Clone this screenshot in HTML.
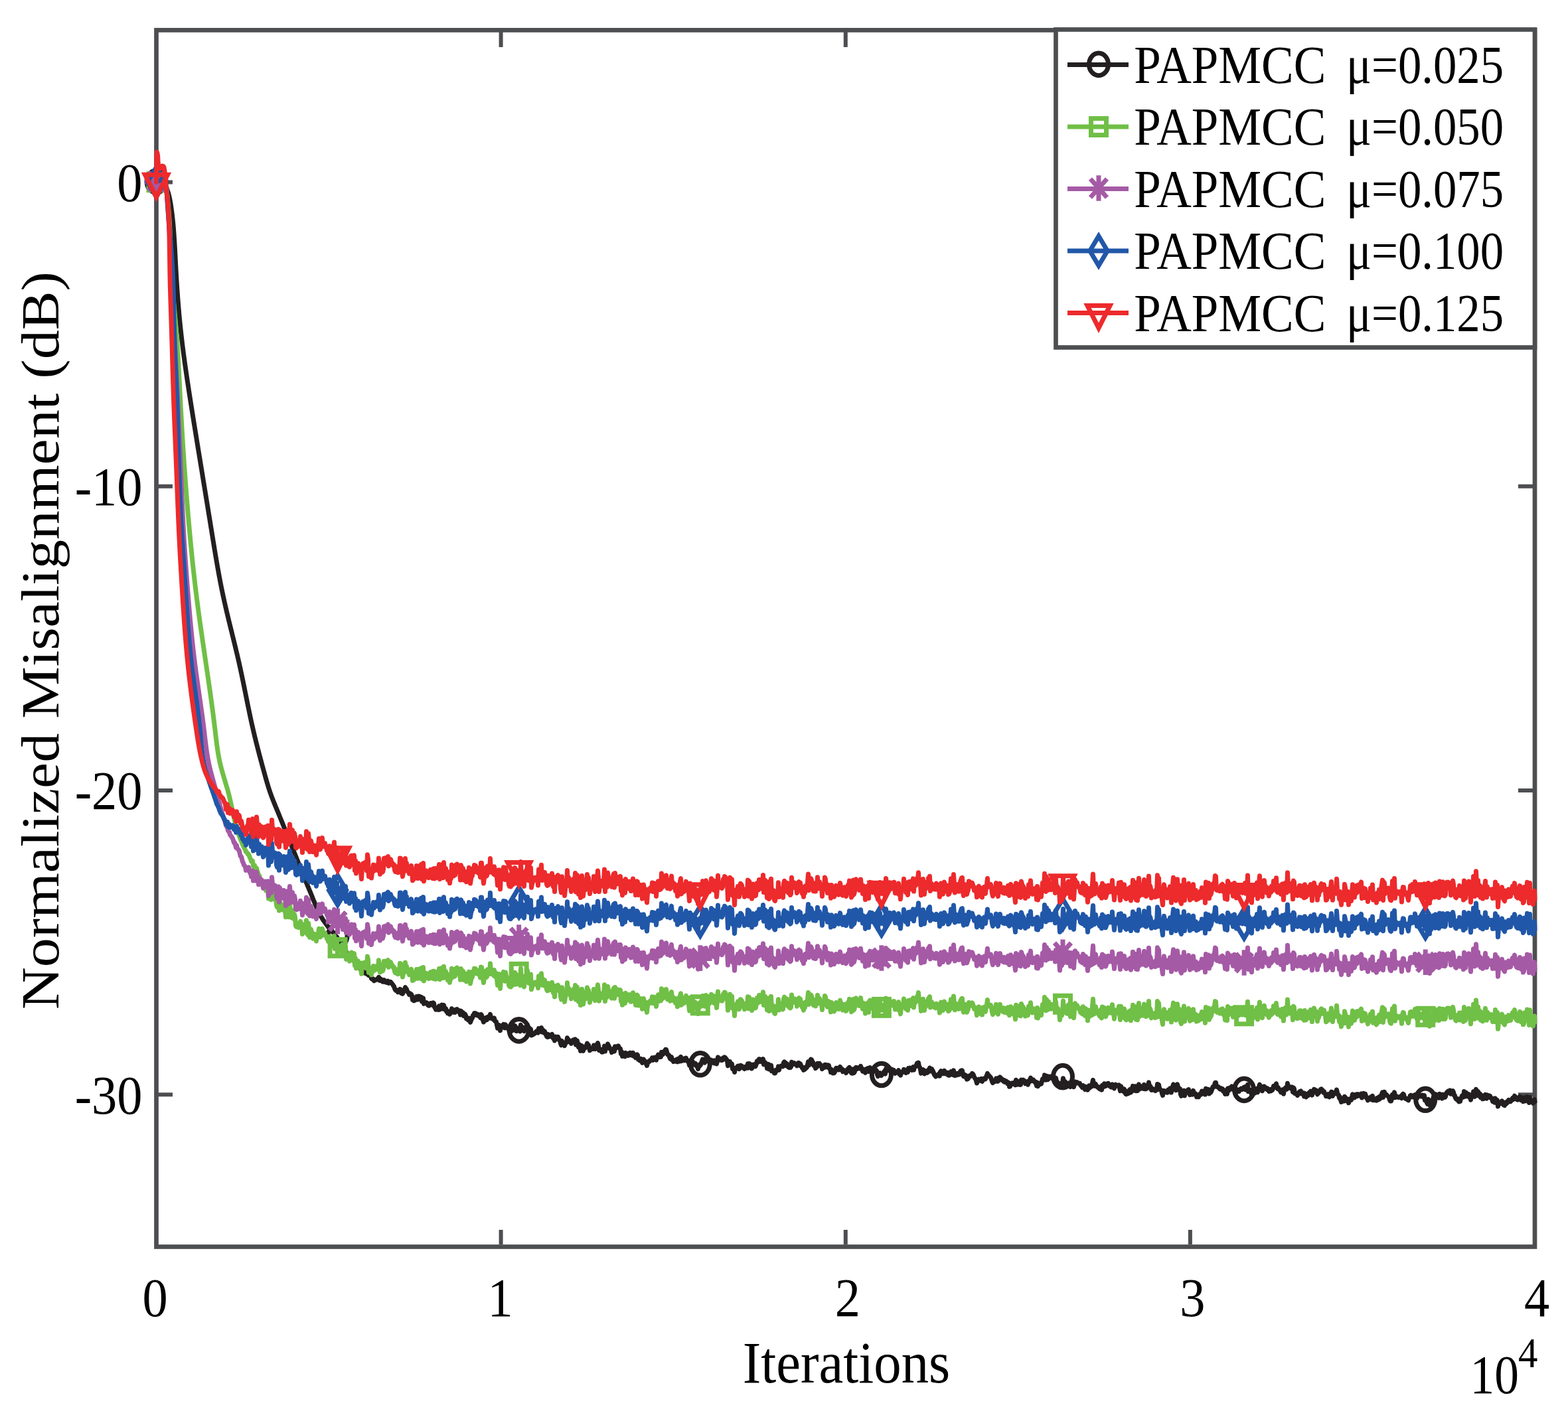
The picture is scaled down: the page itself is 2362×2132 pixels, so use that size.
<!DOCTYPE html><html><head><meta charset="utf-8"><style>html,body{margin:0;padding:0;background:#fff;}svg{display:block}text{font-family:"Liberation Serif","Times New Roman",serif;fill:#000}</style></head><body>
<svg xmlns="http://www.w3.org/2000/svg" width="2362" height="2132" viewBox="0 0 2362 2132">
<rect width="2362" height="2132" fill="#fff"/>
<rect x="235.5" y="45.4" width="2076.5" height="1833.1" fill="none" stroke="#4d4e50" stroke-width="6.7"/>
<path d="M754.6 48v23M754.6 1875v-22M1273.8 48v23M1273.8 1875v-22M1792.9 48v23M1792.9 1875v-22M238 274.4h22M2309 274.4h-22M238 732.8h22M2309 732.8h-22M238 1191.0h22M2309 1191.0h-22M238 1649.3h22M2309 1649.3h-22" stroke="#4d4e50" stroke-width="6" fill="none"/>
<defs><clipPath id="cp"><rect x="230" y="40" width="2090" height="1845"/></clipPath></defs>
<path clip-path="url(#cp)" d="M235.5 274.0l.5 -.4l.5 -.4l.5 -.3l.5 -.3l.5 -.2l.5 -.2l.5 -.1l.5 -.1h.5l.5 .1l.5 .1l.5 .2l.5 .3l.5 .3l.5 .3l.5 .4l.5 .3l.5 .3l.5 .3l.5 .3l.5 .3l.5 .4l.5 .4l.5 .5l.5 .5l.5 .7l.5 .8l.5 1l.5 1.1l.5 1.2l.5 1.2l.5 1.5l.5 1.5l.5 1.5l.5 1.6l.5 1.6l.5 1.8l.5 1.9l.5 2l.5 2.3l.5 2.4l.5 2.7l.5 2.9l.5 3.2l.5 3.4l.5 3.6l.5 3.8l.5 4.1l.5 4.5l.5 4.8l.5 5.3l.5 5.9l.5 6.6l.5 7.3l.5 8.2l.5 9.1l.5 9.8l.5 9.8l.5 9.5l.5 8.8l.5 8.3l.5 7.8l.5 7.3l.5 7l.5 6.7l.5 6.3l.5 6l.5 5.8l.5 5.6l.5 5.3l.5 5.1l.5 5l.5 4.8l.5 4.6l.5 4.5l.5 4.3l.5 4.3l.5 4.1l.5 4.1l.5 3.9l.5 3.9l.5 3.9l.5 3.7l.5 3.7l.5 3.7l.5 3.6l.5 3.6l.5 3.5l.5 3.5l.5 3.4l.5 3.4l.5 3.4l.5 3.4l.5 3.3l.5 3.3l.5 3.3l.5 3.3l.5 3.3l.5 3.2l.5 3.3l.5 3.2l.5 3.2l.5 3.2l.5 3.2l.5 3.1l.5 3.2l.5 3.2l.5 3.1l.5 3.2l.5 3.1l.5 3.2l.5 3.1l.5 3.1l.5 3.1l.5 3.1l.5 3.1l.5 3.1l.5 3.1l.5 3.1l.5 3.1l.5 3.1l.5 3.1l.5 3l.5 3.1l.5 3.1l.5 3l.5 3.1l.5 3.1l.5 3l.5 3.1l.5 3l.5 3.1l.5 3.1l.5 3l.5 3.1l.5 3l.5 3.1l.5 3l.5 3.1l.5 3.1l.5 3l.5 3.1l.5 3l.5 3.1l.5 3l.5 3.1l.5 3.1l.5 3l.5 3.1l.5 3.1l.5 3l.5 3.1l.5 3.1l.5 3l.5 3.1l.5 3.1l.5 3l.5 3.1l.5 3.1l.5 3.1l.5 3l.5 3.1l.5 3.1l.5 3.1l.5 3.1l.5 3.1l.5 3.1l.5 3.1l.5 3l.5 3.1l.5 3.1l.5 3.1l.5 3.1l.5 3l.5 3.1l.5 3l.5 3l.5 3l.5 3l.5 2.9l.5 2.9l.5 3l.5 2.8l.5 2.9l.5 2.8l.5 2.8l.5 2.8l.5 2.8l.5 2.7l.5 2.7l.5 2.6l.5 2.7l.5 2.6l.5 2.5l.5 2.6l.5 2.5l.5 2.5l.5 2.4l.5 2.4l.5 2.4l.5 2.4l.5 2.3l.5 2.3l.5 2.3l.5 2.3l.5 2.2l.5 2.2l.5 2.2l.5 2.2l.5 2.1l.5 2.2l.5 2.1l.5 2.1l.5 2.1l.5 2.1l.5 2.1l.5 2.1l.5 2l.5 2.1l.5 2l.5 2.1l.5 2l.5 2l.5 2.1l.5 2l.5 2l.5 2l.5 2.1l.5 2l.5 2l.5 2l.5 2.1l.5 2l.5 2l.5 2.1l.5 2l.5 2.1l.5 2l.5 2.1l.5 2.1l.5 2.1l.5 2.1l.5 2.1l.5 2.1l.5 2.1l.5 2.2l.5 2.1l.5 2.2l.5 2.2l.5 2.3l.5 2.2l.5 2.3l.5 2.3l.5 2.3l.5 2.3l.5 2.3l.5 2.4l.5 2.4l.5 2.4l.5 2.4l.5 2.4l.5 2.4l.5 2.5l.5 2.4l.5 2.5l.5 2.5l.5 2.4l.5 2.5l.5 2.5l.5 2.5l.5 2.4l.5 2.5l.5 2.5l.5 2.4l.5 2.5l.5 2.5l.5 2.4l.5 2.4l.5 2.4l.5 2.4l.5 2.4l.5 2.4l.5 2.3l.5 2.3l.5 2.4l.5 2.3l.5 2.2l.5 2.3l.5 2.2l.5 2.2l.5 2.2l.5 2.2l.5 2.1l.5 2.1l.5 2.1l.5 2.1l.5 2.1l.5 2l.5 2l.5 2.1l.5 2l.5 1.9l.5 2l.5 2l.5 1.9l.5 2l.5 1.9l.5 1.9l.5 2l.5 1.9l.5 1.9l.5 1.8l.5 1.9l.5 1.9l.5 1.9l.5 1.8l.5 1.9l.5 1.8l.5 1.9l.5 1.8l.5 1.8l.5 1.9l.5 1.8l.5 1.8l.5 1.8l.5 1.8l.5 1.9l.5 1.8l.5 1.7l.5 1.8l.5 1.8l.5 1.7l.5 1.7l.5 1.7l.5 1.7l.5 1.7l.5 1.6l.5 1.6l.5 1.6l.5 1.5l.5 1.5l.5 1.5l.5 1.5l.5 1.4l.5 1.4l.5 1.4l.5 1.4l.5 1.3l.5 1.3l.5 1.3l.5 1.3l.5 1.3l.5 1.2l.5 1.3l.5 1.2l.5 1.3l.5 1.2l.5 1.2l.5 1.2l.5 1.2l.5 1.2l.5 1.2l.5 1.2l.5 1.2l.5 1.2l.5 1.2l.5 1.2l.5 1.3l.5 1.2l.5 1.2l.5 1.2l.5 1.2l.5 1.3l.5 1.2l.5 1.2l.5 1.2l.5 1.3l.5 1.2l.5 1.2l.5 1.3l.5 1.2l.5 1.2l.5 1.3l.5 1.2l.5 1.3l.5 1.2l.5 1.2l.5 1.3l.5 1.2l.5 1.3l.5 1.2l.5 1.2l.5 1.3l.5 1.2l.5 1.3l.5 1.2l.5 1.2l.5 1.3l.5 1.2l.5 1.2l.5 1.3l.5 1.2l.5 1.3l.5 1.2l.5 1.2l.5 1.3l.5 1.2l.5 1.3l.5 1.2l.5 1.2l.5 1.3l.5 1.2l.5 1.3l.5 1.2l.5 1.3l.5 1.2l.5 1.3l.5 1.2l.5 1.2l.5 1.3l.5 1.2l.5 1.3l.5 1.3l.5 1.2l.5 1.3l.5 1.2l.5 1.3l.5 1.2l.5 1.3l.5 1.2l.5 1.3l.5 1.3l.5 1.2l.5 1.3l.5 1.2l.5 1.3l.5 1.2l.5 1.3l.5 1.3l.5 1.2l.5 1.3l.5 1.2l.5 1.2l.5 1.3l.5 1.2l.5 1.3l.5 1.2l.5 1.2l.5 1.3l.5 1.2l.5 1.2l.5 1.2l.5 1.3l.5 1.2l.5 1.2l.5 1.2l.5 1.2l.5 1.2l.5 1.2l.5 1.2l.5 1.2l.5 1.2l.5 1.2l.5 1.2l.5 1.2l.5 1.2l.5 1.2l.5 1.2l1 2.6l1 2.6l1 2.5l1 2.3l1 2.4l1 2.4l1 2.6l1 2l1 2.2l1 1.9l1 1.9l1 2.2l1 2.3l1 1.8l1 1.6l1 1.4l1 2l1 1.3l1 1.3l1 1.3l1 1.5l1 1.2l1 1.5l1 1.2l1 1.5l1 1l1 .7l1 1.3l1 1.4l1 .7l1 1.5l1 1.5l1 .3l1 .8l1 3l1 .7l1 1.8l1 .2l1 3.2l1 .6l1 .6l1 1l1 1.3l1 1l1 1.3l1 .9l1 3.5l1 1.1l1 2.2l1 2.2l1 .2l1 4.2l1 1.2l1 1.5l1 1.6h1l1 2.2l1 -.9l1 .2l1 .7l1 1.9l1 2l1 .5l1 1.1l1 4.7l1 -.2l1 3.8l1 -.1h1l1 .5l1 1.7l1 1.1l1 -.2l1 2.7l1 2.9l1 -1.1l1 .4l1 1.3l1 .4l1 1.5l1 .1l1 -.9l1 2.1l1 -4l1 1.1l1 4.8l1 -.6l1 .6l1 1.5l1 3.7l1 .1l1 1.1l1 -.6l1 2.5l1 -.8l1 -.3l1 -.8l1 .1l1 -1.2l1 1.3l1 -3.8l1 1.8l1 3.4l1 -2.6l1 2.5l1 .7l1 1.2h1l1 -2.7l1 2.7l1 .4l1 -1.6l1 2.2l1 -1.4l1 -.8l1 3.2l1 -.5l1 -1.1l1 -.2l1 1.4l1 1.2l1 1.1l1 2l1 .9l1 3.3l1 2l1 1.2l1 -.9l1 .7l1 2.4l1 -1l1 .6l1 -4l1 .5l1 5.4l1 -.3l1 1.3l1 -2.7l1 -2.3l1 -1.4l1 -3.4l1 5l1 -2.2l1 3.7l1 .8l1 1.5l1 2.3l1 -2l1 1.2l1 .1l1 2.5l1 6l1 -2.9l1 4.3l1 -.5l1 -.4l1 -.5l1 -4.8l1 2.3l1 2.1l1 -5l1 1.6l1 -.9l1 2.8l1 -2.3l1 6.8l1 -3.4l1 -1.6l1 8.4l1 -.9l1 -.3l1 .7l1 -1.3l1 .9l1 2.7l1 .9l1 .2l1 -1.8l1 -2h1l1 2.3l1 .5l1 -3.5l1 .9l1 5.8l1 1.2l1 2.3l1 -2.7l1 2.9l1 -.5l1 .7l1 -5.5l1 5.2l1 -3l1 -.3l1 -3.7l1 2.7l1 3.4l1 -5.8l1 4.9l1 2l1 -1.8l1 4.5l1 -1.4l1 4.2l1 -1.3l1 -.8l1 3.5l1 -3.2l1 .6l1 -5.8l1 1.2l1 3.6l1 .6l1 -1.8l1 2l1 -4.1l1 2.6l1 -3.2l1 3.3l1 -1.6l1 .1l1 2l1 4.5l1 -5.7l1 1.3l1 4l1 -3l1 5.1l1 -3l1 .4l1 1.8l1 4.8l1 -.4l1 1.7l1 1l1 -3l1 1.7l1 4.7l1 -2.7l1 -2.3l1 -1.5l1 -4.2l1 .6l1 -3.6l1 2.5l1 -2.5l1 1.3l1 1.7l1 -1.5l1 2.3l1 -.2l1 .2l1 3l1 -5l1 1l1 6l1 1.6l1 2.9l1 -2.6l1 .1l1 -3.9l1 3.4l1 -.6l1 -4.2l1 -.2l1 1.3l1 .7l1 -5.7l1 5.4l1 .7l1 -.5l1 1.4l1 1l1 -2.4l1 4.5l1 .4l1 .6l1 4.8l1 4.9l1 -5l1 .5l1 .3l1 7.9l1 -5.2l1 .1l1 -1.8l1 -.4l1 -2.2l1 5.1l1 .4l1 -4.9l1 2.1l1 .6l1 1.7l1 1l1 2.6l1 1.4h1l1 1l1 -5.7l1 .8l1 3.1l1 -2.5l1 -.6l1 -4l1 1.3l1 6.8l1 .1l1 -.8l1 -.2l1 -3.4l1 3.9l1 .8l1 -9.7l1 6.6l1 -.7l1 -2.2l1 4.9l1 .8l1 -5.5l1 1.7l1 -.7l1 -1.5l1 -3.5l1 4.9l1 3.3l1 -3.1l1 3l1 -1.5l1 9.3l1 -.6l1 -.3l1 -.6l1 -1.3l1 .2l1 -1.8l1 -1.3l1 -.7l1 -.4l1 2.9l1 -6.5l1 4l1 -1.7l1 -.9l1 -2.5l1 6.4l1 -3.3l1 .9l1 3.6l1 -2.2l1 3.8l1 1.1l1 2.8l1 .9l1 -4.1l1 3.8l1 -2.3l1 .4l1 -.7l1 2.4l1 -3.8l1 3.9l1 2.8l1 -2.5l1 5.6l1 -6l1 2l1 -1.5l1 -.1l1 -.2l1 2.6l1 2.7h1l1 5.1l1 2.2l1 -6.4l1 5.1l1 -1.7l1 -.3l1 4.1l1 -2.8l1 -2.4l1 -.9l1 -5.7l1 6.1l1 -3.5l1 2.1l1 -.2l1 1.8l1 2.2l1 -2.6l1 .5l1 -3.4l1 1.9l1 1.2l1 -4.1l1 8.3l1 -5.4l1 -.5l1 7.4l1 2.3l1 -4.6l1 2l1 8.1l1 -3.7l1 -4.1l1 2.8l1 5l1 -3.9l1 -.8l1 .3l1 -1.8l1 -2.4l1 -2.7l1 5l1 -2.5l1 3.3l1 4.9l1 -2.2l1 -.9l1 -.3l1 1.1l1 -.1l1 -5.4l1 2.8l1 2.8l1 -2.8l1 -3.8h1l1 -2.5l1 3.9l1 7l1 -1.6l1 .2l1 2.2l1 1.9l1 .2l1 -1.1l1 -2l1 -6.1l1 8l1 -6.3l1 -1.4l1 2.7l1 -6.1l1 2.3l1 1.6l1 3l1 1l1 .6l1 4.1l1 -2.7l1 -1.5l1 -1.7l1 4.4l1 -7.3l1 3l1 -1l1 -.5l1 -2.3l1 -.1l1 2.9l1 .6l1 .7l1 7.6l1 -3.1l1 7l1 -2.2l1 -1.8l1 2.2l1 2l1 -5.4l1 1.3l1 -.1l1 2.7l1 .1l1 -1.5l1 -2.5l1 -.2l1 3.7l1 .2l1 -1.4l1 -2.4l1 4.8l1 -.5l1 -.1l1 3.2l1 -1.7l1 -3.2l1 1l1 6.5l1 -1.2l1 2.8l1 -1.3l1 -1.2l1 3l1 3l1 -2.6l1 -2.8l1 2.4l1 .3l1 2.2l1 2.4l1 2.3l1 -4.1l1 -1.9l1 .4l1 -1l1 -1.8l1 .3l1 -.7l1 -3l1 3.5l1 -2.2l1 -1.6l1 2.8l1 -2.9l1 3.9l1 -3.9l1 -1.9l1 -2.4l1 .7l1 2.9l1 -3.2l1 2.9l1 -7.1l1 3.7l1 -.2l1 -2.7l1 -2l1 1.5l1 -4.3l1 .2l1 3.4l1 3.9l1 .2l1 .7l1 3.1l1 2.4l1 -1.8l1 -.7l1 4.5h1l1 2.3l1 -1.8l1 -.2l1 1.6l1 -1.8l1 -1l1 3.5l1 -4.6l1 .3l1 3.7l1 -5.4l1 -1.4l1 6.3l1 -2.2l1 .5l1 .1l1 .7l1 -2.9l1 1.1l1 -1.7l1 3.5l1 1.1l1 -.8l1 3.1l1 3.8l1 -7l1 4.6l1 .5l1 .4l1 -3.9l1 4.7l1 -.9l1 -1.3l1 .2l1 2.1l1 2.3l1 .6l1 3.3l1 -5.5l1 1.6l1 -3.4l1 1.2l1 -3l1 -2.9l1 -2.5l1 .7l1 2l1 2.4l1 -1.9l1 -4.7l1 1.3l1 1.2l1 .1l1 1.1l1 2.4l1 -.3l1 -1.2l1 -2.1l1 3.8l1 -2.8l1 3.1l1 .7l1 -4.1l1 2.1l1 -1.1l1 4.2l1 -4.1l1 -5.9l1 4.5l1 -.4l1 -1.4l1 -.4l1 2.2l1 .1l1 -.6l1 -3.2l1 1.7l1 -2.6l1 .6l1 2.7l1 -.2l1 2.5l1 7.4l1 -2.9l1 -1.8l1 -1.7l1 4l1 -.1l1 -.4l1 7.5l1 -1.7l1 2.4l1 4.3l1 -5.3l1 -1l1 -.1l1 -1.7l1 -1.3l1 1.4l1 3.1l1 -3l1 -2.3l1 .3l1 .5l1 2.2l1 .9l1 -.1l1 1.4l1 -3.1l1 2.2l1 -1.3l1 .6l1 -6l1 6.2l1 -6.6l1 .6l1 4.2l1 -2.4l1 5.1l1 -3.3l1 -2.7l1 2.1l1 -2.1l1 3l1 -1.3l1 -3.4l1 -3.8l1 .1l1 1.5l1 -4.4h1l1 3.7h1l1 -1.6l1 .6l1 -2.7l1 8.1l1 -1.5l1 -1.6l1 1.6l1 1.2l1 6.2l1 -2l1 -4.2l1 7.5l1 -.4l1 -4.1l1 -1.4l1 8.7l1 -2.1l1 1.9l1 -.4l1 3.9h1l1 -2.1l1 -2.9l1 .2l1 .1l1 -5.5l1 5.3l1 -4.4h1l1 -1.8l1 .2l1 -.9l1 1.6l1 -5.9l1 -1.1l1 2.7l1 -1.1l1 4.1l1 -2.9l1 2.9l1 2.3l1 .5l1 -2l1 2.2l1 -1.1l1 -7.3l1 4l1 -.7l1 -1l1 -.7l1 1.5l1 .7l1 -.4l1 2.2l1 -.9l1 -3.4l1 -.1l1 4l1 -2.7l1 2.7l1 1.7l1 2.3l1 -.1l1 3l1 -3.7l1 2.6l1 -3.2l1 1.2l1 -1.1l1 -3.7l1 -4.7l1 5.3l1 -3.4l1 -2.3l1 -3.2l1 .5l1 2.6l1 1l1 5.1l1 .3l1 -.1l1 4.1l1 -2.8l1 1l1 -5.6l1 2l1 1.2l1 -3l1 1.5l1 1.9l1 -.2l1 5l1 -3.4l1 1l1 .3l1 -4.3l1 .1l1 3.4l1 -3l1 3.2l1 -3.1l1 .8l1 4.4l1 .5l1 5l1 -4l1 4.5l1 .9l1 -.6l1 .4l1 -1.4l1 -3.4l1 -2.5l1 2.5l1 -2.6l1 1.8l1 .8l1 -2.4l1 -2.1l1 1.9l1 2.8l1 -1.5l1 4l1 -1.6l1 1l1 -1.1l1 1.3l1 2.4l1 -3.8l1 -.8l1 -1.7l1 3l1 -5.1l1 2.4l1 4.2l1 2l1 -2.8l1 3.1l1 -6.4l1 5.8l1 -1.7l1 -4.2l1 -2.3l1 1.6l1 .6l1 -.7l1 -1.2l1 1.3l1 .2l1 -3.8l1 3.2l1 .6l1 4.1l1 -3.1l1 3.3l1 -2.3l1 4.3l1 -5.5l1 -.4l1 -.7l1 .2l1 4.6l1 -5.8l1 -.3l1 2.2l1 2.6l1 -3l1 4.2h1l1 -2.1l1 -.3l1 -.9l1 1.9l1 .1l1 6l1 2.5l1 -2.9l1 1.5l1 -3.7l1 2.7l1 1.2l1 -1.3l1 -1.7l1 .4l1 -2.6l1 -1.5l1 4.3l1 -7.6l1 1.8l1 .9l1 -.4l1 -.9l1 .2l1 -2.1l1 .7l1 1.4l1 -.6l1 1.4l1 -.9l1 .6l1 2.3l1 2.4l1 -2l1 .9l1 -.5l1 .5l1 -3.5l1 5.2l1 -.6l1 2.9l1 -3.5l1 -1l1 -1.1l1 .6l1 -3.8l1 3.2l1 .3l1 1.6l1 -4.5l1 .7l1 2.7l1 -5.9l1 2.6l1 -3.1l1 1l1 1.4l1 1l1 -3.2l1 -1.6l1 4.5l1 -4.2l1 -.4l1 -1.3l1 -1.5l1 -2.6l1 .8l1 -1.7l1 5.9l1 1l1 3.2l1 5.8l1 -1.5l1 -1l1 -3l1 4.5l1 1.8l1 -4.6l1 3.4l1 -1.3l1 1.1l1 -.7l1 -3.6l1 .9l1 -4.1l1 5l1 -1.5l1 -1.9l1 1.8l1 1.6l1 2.9l1 2.5l1 1.1l1 1.5l1 -2.1l1 .5h1l1 .4l1 -2.9l1 3.3l1 -6l1 -1.6l1 .9l1 1l1 2l1 -1.4l1 -2.7l1 1.5l1 3.1l1 -1.6l1 1.3l1 -1.6l1 4l1 .2l1 -.2l1 -1.7l1 -3.7l1 .6l1 3.5l1 .6l1 -6.5l1 4.1l1 3.6l1 -.2l1 -3.1l1 2.4l1 -1.6l1 -1l1 2.1l1 -.7l1 -4.1l1 -1.1l1 -.6l1 .3l1 6.6l1 2l1 -2.5l1 3.2l1 -2.3l1 2.8l1 3.4l1 -.4l1 -.6l1 -3.9l1 -.6l1 .8l1 -1.9l1 -.3l1 -2l1 .9l1 1.7l1 3l1 1.5l1 1.2l1 2.6l1 3.8l1 -2.2l1 -2.3l1 -1.3l1 1.4l1 -.4l1 1.1l1 -3l1 4.2l1 -3.3l1 .2l1 -1.5l1 1.2l1 -.3l1 -3.6l1 -2l1 -2.9l1 3.5l1 -.6l1 1.4l1 .7l1 1.3l1 2.7l1 3.3l1 1.9l1 -1.8l1 .5l1 -1.6l1 -.4l1 -3.3l1 4.2l1 -1.3l1 1.3l1 -5l1 1.3l1 -2.5l1 2.6l1 -.4l1 2.4l1 -.9l1 2.5l1 -1.6l1 2.8l1 -1.6l1 .1l1 2l1 1.9l1 -2l1 1.5l1 5l1 -.1l1 -4.6l1 -.4l1 .4l1 .7l1 -1.6l1 .7l1 -.1l1 2.6l1 -7.5l1 3.8l1 3.1l1 -4.5l1 -.1l1 3.3l1 1.6l1 -.2l1 -7.2l1 .3l1 1.4l1 -1.6l1 1.4l1 -.1l1 4.2l1 -2.8l1 1.6l1 .5l1 2.2l1 -5.5l1 2l1 -3.9l1 -2.7l1 4.6l1 -1.9l1 1.9l1 -1.8l1 1.8l1 .2l1 2.4l1 -.9l1 5.5l1 -5l1 5.8l1 -4.2l1 1.8l1 -2.2l1 -.2l1 1.2l1 -4l1 -3.5l1 1.5h1l1 -7.2l1 6.9l1 .3l1 -6l1 3.6l1 2l1 -4.7l1 .9l1 -.7l1 1.3l1 .9l1 -2.4l1 .6l1 2.4l1 -.1l1 -.6l1 4.3l1 -4.5l1 5.1l1 .6l1 1.3l1 2.6h1l1 4.6l1 -4.4l1 -1.7l1 1.6l1 -2.3l1 -6.8l1 4.4l1 2.1l1 -1.5l1 3.7h1l1 3.1l1 -3.8l1 -.7l1 2.6l1 1.1l1 1.8l1 -3.9l1 -1.3l1 3.4l1 -1.9l1 3.9l1 -4l1 -3.8l1 2.5l1 -.4l1 -1.2l1 1.1l1 -.1l1 .8l1 -.3l1 2.7l1 1.1l1 .9l1 1.7l1 -3.2l1 1.5l1 2.2l1 2.4l1 -4.3l1 1.3l1 .5l1 3.1l1 -4.3l1 -2l1 3.3l1 -2.3l1 -1.8l1 2.1l1 -5.3l1 -4.6l1 6.4l1 2.5l1 -3.4l1 .8l1 2.9l1 .9l1 1l1 -.6l1 2.1l1 1l1 -.6l1 -2.6l1 4.5l1 -6.9l1 1.5l1 .8l1 -4.8l1 3l1 .7l1 -1l1 -2.3l1 1.7l1 -2.6l1 3l1 1.2l1 .4l1 1.1l1 -.3l1 -3.8l1 4.6l1 -1.2l1 2.7l1 -3.9l1 -1.9l1 1.7h1l1 -.3l1 .4l1 -1.1l1 4.6l1 4.2l1 -7.1l1 2.5l1 4.4l1 -.4l1 1.6l1 -3.8l1 3.9l1 3.3l1 .6l1 -.6l1 -2.9l1 2.5l1 -4.7l1 -.4l1 -1.4l1 4.9l1 -4.7l1 .4l1 -5.4l1 6.8l1 -1.7l1 -4.8h1l1 7l1 -6l1 5.8l1 -5.3l1 -4.3l1 7.3l1 -1.6l1 .2l1 -2.9l1 .6l1 2.7l1 -3.6l1 -2.2l1 6.4l1 -3.6l1 3.5l1 -4.7l1 -.7h1l1 -4.4l1 8.2l1 -3l1 1.9l1 4.5l1 -2.4l1 2l1 -1l1 1.1l1 -.8l1 2.1l1 -3.1l1 1l1 -7.9l1 8.2l1 -7.6l1 5.5l1 1.3l1 1.3l1 .7l1 4.5l1 3.1l1 -4.9l1 -2.2l1 1.8h1l1 .5l1 -1l1 1.4l1 -4.1l1 .4h1l1 -2.4l1 .8l1 5.2l1 -6.1l1 -2.7l1 -3.3l1 6.7l1 -3.3l1 -.9l1 6.3l1 -2.1l1 -6.8l1 3.5l1 4.1l1 1.3l1 -2.2l1 8.6l1 2.2l1 -5l1 -.5l1 1.1l1 -3.8l1 7.8l1 -3.3l1 -3l1 .1l1 1l1 -3.8l1 -.4l1 4.4l1 3.7l1 -2l1 .1l1 -2l1 3.4l1 -5.7l1 4l1 -.4l1 1.9l1 -.7l1 4.6l1 -1.2l1 -.9l1 2.1l1 -2l1 -2.1l1 -1.4l1 1.7l1 -4.9l1 .8l1 -.7l1 1l1 -1.2l1 5l1 -8.7l1 5.1l1 -1.3l1 2.9l1 -5.6l1 6.6l1 -5.8l1 4l1 -1.5l1 -2.5l1 -3.4l1 -1.7l1 .6l1 -2.9l1 -3.5l1 -.1l1 5.8l1 .5l1 .1h1l1 1.9l1 1.3l1 .5l1 -1.5l1 .9l1 -.2l1 3.6l1 -1.8l1 2.5l1 3.6l1 -3.5l1 2.7l1 .7l1 -8.3l1 -.2l1 3.1l1 -3.7l1 1.7l1 -.5l1 -3.5l1 2.6l1 2.1l1 -1.3l1 -3.2l1 2.7l1 .3l1 5.8l1 -3l1 -.6l1 1.6l1 .5l1 -2.9h1l1 -1.2l1 1l1 .2l1 -1.6l1 -1.5l1 2l1 -2.8l1 4.3l1 -1.7l1 -.3l1 -5.6l1 10.3l1 -1.4l1 .4l1 -1.4l1 2.5l1 4.8l1 -5.4l1 3.9h1l1 -1.1h1l1 -3.7l1 2.5l1 -5.5l1 5.5l1 -3.6l1 -4.7l1 -3.3l1 4.8l1 1.2l1 -2.7l1 6.4l1 -2.8l1 -1.6l1 -2.4l1 2.4l1 -.6l1 1.8l1 1l1 -1.7l1 1.6l1 2.9l1 -1.2l1 -1.4l1 2.1l1 -2.7l1 1.5l1 -2.1l1 -4.2l1 2.2l1 -2.4l1 .9l1 -4.4l1 6.3l1 1.4l1 -1.7l1 2l1 1.7l1 .8l1 2.6l1 -3l1 -.8l1 2l1 4.3l1 -5.8l1 -2.4l1 -1.2l1 1.1l1 1.1l1 -8.8l1 5.4l1 -.1l1 .6l1 -.4l1 2.3l1 -.2l1 -2l1 7.5l1 -6.5l1 1.7l1 6.8l1 -.4l1 .2l1 1.8l1 1.4l1 -2.6l1 -1l1 -1.8l1 -.5l1 -.5l1 4l1 -1.5l1 1.5l1 -1.1l1 5l1 -4.6l1 5.1l1 .5l1 -3.2l1 -1.6l1 2.7l1 -3.6l1 -1.2l1 1.1l1 -2.9l1 1.7l1 4.3l1 -6l1 2.2l1 -5.1l1 1.9l1 -.9l1 .5l1 2.5l1 3.6l1 -4.8l1 2.8l1 -2.7l1 .1l1 -3.1l1 -.4l1 2h1l1 3.1l1 -1.2l1 2.9l1 .6l1 3.6h1l1 -1.9l1 -1.3l1 3.4l1 .9l1 -2.4l1 -2.2l1 -3.2l1 2.8l1 3.4l1 -5.2l1 1l1 -.2l1 .2l1 .7l1 -5.8l1 4.8l1 2.3l1 .6l1 4.7l1 -1.6l1 4.5l1 3.2l1 -3.6l1 1l1 -.8l1 2.1l1 -6.9l1 1.2l1 2.5l1 2.8l1 -.1l1 -2.6l1 5.7l1 -3.5l1 -2.3l1 1.3l1 .2l1 -4.4l1 -4.2l1 1.7l1 1.3l1 1.9l1 -4.3l1 2.7l1 -3.4l1 2.8l1 -2.9l1 2.3l1 -1.9l1 1.5l1 -1.4l1 -1.3l1 6.1l1 -1.3l1 -2.7l1 -2.6l1 4l1 -3.2l1 3l1 3.2l1 -.5l1 4l1 -2.8l1 .2l1 .6l1 -3l1 -.1l1 4l1 -5.5l1 6.3l1 -1.9l1 1.8l1 -1.2l1 -.6l1 2.5l1 -4h1l1 2.7l1 -4.3l1 3.3l1 -1.8l1 -3.4l1 -2.5l1 -2.4l1 7.8l1 -8.2l1 -.2l1 4.2l1 -.5l1 .4l1 1.4l1 .8l1 .7l1 1.8l1 3.7l1 1.3h1l1 -3.5l1 -6.1l1 4.8l1 -2.7l1 -5.6l1 7.9l1 -2.2h1l1 1.2l1 .3l1 .5l1 -.3l1 -.7l1 .4l1 -1.5l1 3.1l1 -5.1l1 -1.3l1 .8l1 3.8l1 1.2l1 1.6l1 -.1l1 .1l1 1.6l1 .7l1 -3.1l1 -1.6l1 -2.7l1 -.3l1 2.6l1 -.5l1 .5l1 -2l1 2.4l1 -3.7l1 1.8l1 .9l1 2.8l1 -3.3l1 -1.7l1 1.7l1 -1.6l1 1.7l1 -1.5h1l1 -.3l1 2.8l1 -1.8l1 -.3l1 7l1 -1.3l1 2.7l1 2.6l1 1.7l1 -7.2l1 3.5l1 5.1l1 -6.6l1 4.3l1 -2.7l1 -2.5l1 .1l1 -5.2l1 3l1 .2l1 -6.8l1 .8l1 3.7l1 -1.9l1 -1.2l1 4.4l1 -6.1l1 3.8l1 1.3l1 -.7l1 2.3l1 -5.9l1 3.1l1 -2.5l1 3.7l1 -1.1l1 -4.7l1 -1.7l1 1.2l1 -3l1 -.4l1 1.5l1 -2.2l1 5.2l1 -3.4l1 -.6l1 -.6l1 2.2l1 4.7l1 .1l1 3.7l1 1.7l1 .5l1 -.9l1 2.8l1 1.4l1 -3.8l1 3.5l1 -4.9l1 -.3l1 -3.5l1 .2l1 2.1l1 -8.5l1 2.4l1 5l1 -5.7l1 2.6l1 1.4l1 1.9l1 -3.5l1 4.6l1 .6l1 3.3l1 -5.9l1 -1.7l1 1.1l1 -5.9l1 5.3l1 2.2l1 -4l1 -7.1l1 5.7l1 .6l1 -3l1 6.6l1 -3.8l1 .9l1 5.5l1 -2.8l1 -.3l1 5.2l1 -2.7l1 2.2l1 -3.1l1 -2.8l1 3.8l1 1.9l1 -5.2l1 1.1l1 .4l1 -.6l1 .5l1 3.1l1 .4l1 -.1l1 4.8l1 .5l1 -.3l1 1.4l1 -6.2l1 6.4l1 .2l1 -3.8l1 9.4l1 -3.7l1 -2l1 -.1l1 1.2l1 -.5l1 -3.1l1 3.2l1 2.4l1 .7l1 .5l1 -4.6l1 .3l1 1.3l1 -3.2l1 .9l1 -3.1l1 2.6l1 -1.3l1 1l1 -1.3l1 -2.2l1 -1.6l1 2l1 -2.4l1 -2.9l1 1.5l1 2.6l1 1l1 -.9l1 1.7l1 -3.6l1 .5l1 -1.8l1 .3l1 5.2l1 -2.5l1 .7l1 3.8l1 -.3l1 -5.8l1 4.5l1 -3.5l1 4.1l1 -6.1l1 2.2l1 .1l1 6.6l1 -8.2l1 6.5h1l1 -2l1 1.5l1 3l1 -4.3l1 -1.4l.5 3.3" stroke="#231f20" fill="none" stroke-width="7.0" stroke-linejoin="round" stroke-linecap="round"/>
<ellipse cx="235.5" cy="273.6" rx="14.5" ry="16.8" fill="none" stroke="#231f20" stroke-width="7.0"/>
<ellipse cx="508.6" cy="1410.1" rx="14.5" ry="16.8" fill="none" stroke="#231f20" stroke-width="7.0"/>
<ellipse cx="781.7" cy="1552.4" rx="14.5" ry="16.8" fill="none" stroke="#231f20" stroke-width="7.0"/>
<ellipse cx="1054.8" cy="1603.3" rx="14.5" ry="16.8" fill="none" stroke="#231f20" stroke-width="7.0"/>
<ellipse cx="1327.9" cy="1619.0" rx="14.5" ry="16.8" fill="none" stroke="#231f20" stroke-width="7.0"/>
<ellipse cx="1601.0" cy="1622.1" rx="14.5" ry="16.8" fill="none" stroke="#231f20" stroke-width="7.0"/>
<ellipse cx="1874.1" cy="1641.9" rx="14.5" ry="16.8" fill="none" stroke="#231f20" stroke-width="7.0"/>
<ellipse cx="2147.2" cy="1656.8" rx="14.5" ry="16.8" fill="none" stroke="#231f20" stroke-width="7.0"/>
<path clip-path="url(#cp)" d="M235.5 274.0h.5h.5h.5h.5h.5h.5h.5h.5h.5h.5h.5h.5h.5h.5h.5h.5h.5h.5l.5 .1h.5l.5 .2l.5 .1l.5 .2l.5 .2l.5 .2l.5 .5l.5 1l.5 1.4l.5 2l.5 2.3l.5 2.8l.5 5l.5 5.1l.5 5.2l.5 5.3l.5 5.5l.5 5.8l.5 6.3l.5 6.9l.5 7.9l.5 9.5l.5 11.4l.5 13.5l.5 14.2l.5 13.2l.5 11l.5 9.1l.5 7.9l.5 6.9l.5 6.5l.5 6.1l.5 5.9l.5 5.7l.5 5.6l.5 5.6l.5 5.5l.5 5.6l.5 5.7l.5 5.8l.5 6.1l.5 6.3l.5 6.8l.5 7.1l.5 7.5l.5 8l.5 8.5l.5 8.9l.5 9.2l.5 9.6l.5 9.8l.5 9.8l.5 9.7l.5 9.5l.5 9.2l.5 9.1l.5 8.8l.5 8.6l.5 8.4l.5 8.2l.5 8l.5 7.8l.5 7.6l.5 7.5l.5 7.3l.5 7.2l.5 7l.5 6.8l.5 6.8l.5 6.6l.5 6.4l.5 6.4l.5 6.3l.5 6.1l.5 6.1l.5 5.9l.5 5.9l.5 5.7l.5 5.7l.5 5.6l.5 5.5l.5 5.4l.5 5.4l.5 5.3l.5 5.2l.5 5.1l.5 5l.5 5l.5 4.9l.5 4.8l.5 4.7l.5 4.7l.5 4.6l.5 4.5l.5 4.4l.5 4.4l.5 4.3l.5 4.3l.5 4.2l.5 4.1l.5 4.1l.5 4l.5 4l.5 3.9l.5 3.8l.5 3.8l.5 3.8l.5 3.7l.5 3.7l.5 3.6l.5 3.7l.5 3.6l.5 3.5l.5 3.6l.5 3.5l.5 3.5l.5 3.5l.5 3.4l.5 3.5l.5 3.4l.5 3.5l.5 3.4l.5 3.4l.5 3.4l.5 3.4l.5 3.4l.5 3.4l.5 3.4l.5 3.4l.5 3.4l.5 3.4l.5 3.4l.5 3.4l.5 3.4l.5 3.4l.5 3.4l.5 3.4l.5 3.5l.5 3.5l.5 3.4l.5 3.5l.5 3.6l.5 3.5l.5 3.5l.5 3.6l.5 3.6l.5 3.7l.5 3.7l.5 3.7l.5 3.7l.5 3.8l.5 3.8l.5 3.9l.5 3.9l.5 4l.5 4.1l.5 4.1l.5 4.2l.5 4.2l.5 4.3l.5 4.2l.5 4.1l.5 3.9l.5 3.7l.5 3.6l.5 3.3l.5 3.1l.5 3l.5 2.7l.5 2.7l.5 2.4l.5 2.4l.5 2.2l.5 2.2l.5 2l.5 2l.5 1.9l.5 1.8l.5 1.8l.5 1.8l.5 1.8l.5 1.7l.5 1.7l.5 1.7l.5 1.7l.5 1.6l.5 1.7l.5 1.7l.5 1.6l.5 1.7l.5 1.7l.5 1.7l.5 1.7l.5 1.7l.5 1.7l.5 1.8l.5 1.8l.5 1.8l.5 1.9l1 4l1 4.3l1 4.4l1 4.6l1 4.8l1 4.7l1 4.8l1 4.7l1 4l1 4.3l1 4.2l1 2.6l1 3.9l1 2.9l1 2.6l1 2.7l1 3.1l1 2.7l1 1.8l1 2.7l1 2.7l1 1.9l1 2.5l1 1.6l1 1.8l1 3l1 .5l1 1.1l1 2.2l1 -.2l1 2.4l1 3.2l1 1.7l1 3.4l1 -.1l1 -.2l1 7.6l1 .7l1 -1.8l1 6.3l1 -.6l1 -1.6l1 4.9l1 2l1 6.9l1 -3l1 3.6l1 2.3l1 1.9l1 .8l1 4.9l1 4.3l1 .7l1 -2.5l1 1.2l1 5.7l1 -.8l1 1.9l1 -2l1 13.2l1 -2.4l1 -5.7l1 7.4l1 2.2l1 -13l1 6.8l1 .8l1 4.5l1 -2.4l1 .5l1 1.9l1 9.4l1 2.9l1 -10l1 -.5l1 15.7l1 -13.6l1 2.7l1 3.6l1 2.7l1 3.3l1 -2.2l1 -5.1l1 8.2l1 .3l1 9.8l1 -8.5l1 -6.3l1 1.6l1 13.1l1 -10.7l1 -8.2l1 8.7l1 3.9l1 7.5l1 -11.2l1 10.6l1 2.1l1 -6.9l1 4.6l1 12.9l1 1.4l1 -3.4l1 -1.5l1 6l1 -6.4l1 1l1 -4l1 5.4l1 -.4l1 14.3l1 -14.7l1 9.3l1 1.2l1 -7.9l1 9.7l1 -18.3l1 15.5l1 6.3l1 -17.6l1 7.7l1 13.7l1 -7.5l1 -4.6l1 5.1l1 .1l1 8.8l1 -.5l1 -3.8l1 -2.2l1 3.2l1 7.2l1 -7l1 .6l1 -5.5l1 -7l1 3.9l1 8.8l1 -2.6l1 -5.7l1 -4.3l1 9.9l1 -3.2l1 -.5h1l1 3.8l1 .5l1 4.6l1 .7l1 3.5l1 -1.9l1 -5.7l1 2.7l1 4.2l1 -4.1l1 6.1l1 4.7l1 -10.3l1 -4.2l1 19.5l1 -5.4l1 5.7l1 -10.9l1 19.3l1 -5.4l1 -5l1 -1.5l1 2.6l1 -1.7l1 -.2l1 -4l1 15.9l1 -5.7l1 3l1 2.4l1 -12.1l1 18.8l1 -3.7l1 1.1l1 2.3l1 -6.8l1 9.9l1 -10.5l1 -2.3l1 -.4l1 6.3l1 4.6l1 -6.1l1 -3.1l1 18l1 -10.6l1 15l1 -6.9l1 -3.9l1 -.2l1 6.2l1 2.5l1 -5.9l1 8l1 8.4l1 -12.2l1 -4.2l1 1.5l1 -1.6l1 4.3l1 -1.1l1 -4.7l1 9.9l1 -18.3l1 5l1 19.7l1 -5.5l1 -2l1 1.1l1 9.8l1 -5.6l1 -1.2l1 -6.7l1 7.3l1 -4.4l1 -.9l1 -1.7l1 2.3l1 -3.2l1 5.9l1 -14l1 6.3l1 11.9l1 -10.9l1 7.2l1 .1l1 1.7l1 -2.8l1 -12.1l1 7.1l1 -.3l1 -6.9l1 6.4l1 -5l1 -2.9l1 10.7l1 -1.9l1 -4.1l1 -1.6l1 2.8l1 1.6l1 .8l1 3.3l1 -1l1 6.5l1 2.2l1 .3l1 -5.4l1 .6l1 6.3l1 -3.8l1 1l1 -13.4l1 .2l1 15.7l1 -.6l1 5.2l1 -5.5l1 -4.5l1 -2.4l1 -9.3l1 13.9l1 -8.4l1 7.7l1 -.8l1 1.5l1 4.4l1 -7.7l1 1.2l1 -2l1 3.9l1 13.5l1 -11.2l1 9.9l1 -2.2l1 -1.1l1 -.4l1 -12l1 7.4l1 6.5l1 -14.1l1 3.8l1 -3.7l1 6.3l1 -8l1 16.6l1 -11.4l1 -6.4l1 20.6l1 -4.5l1 -2.4l1 .3l1 -5.1l1 1.1l1 5.9l1 1.2l1 -.1l1 -4.8l1 -4.9l1 .8l1 6.9l1 1.5l1 -10.7h1l1 11.7l1 -1.3l1 1.6l1 -10.9l1 6.1l1 -1.4l1 3.2l1 -12.8l1 16.2l1 -7l1 .1l1 -10.2l1 6.8l1 8.2l1 -17.3l1 11.7l1 3l1 -7.5l1 9.9l1 -6.2l1 9.7l1 -4.3l1 -2.2l1 10l1 -7.8l1 2.1l1 -15.5l1 3l1 8.9l1 .5l1 -5.7l1 4.9l1 -11.3l1 7.2l1 -8.6l1 8.6l1 -5l1 -.8l1 4.5l1 10.8l1 -16.7l1 2.6l1 10.1l1 -8.9l1 13.1l1 -9.1l1 -.4l1 2.5l1 9.6l1 -4.9l1 .8l1 -.4l1 -10.2l1 4.1l1 13.6l1 -5.2l1 -3.5l1 -1l1 -8.7l1 3.9l1 -8.3l1 7.2l1 -6.8l1 3.1l1 4l1 -4.6l1 5.8l1 -1.1l1 -.3l1 6.4l1 -15.9l1 .3l1 14.2l1 2.5l1 6.8l1 -7.5l1 .3l1 -10.5l1 9.5l1 -.9l1 -10.9l1 .3l1 4.3l1 2.1l1 -15.7l1 14.3l1 1.2l1 -2.2l1 2.9l1 1.6l1 -8.1l1 9.6l1 -2.4l1 -2.4l1 8.9l1 9.3l1 -16.4l1 -.5l1 .2l1 21.6l1 -13.7l1 .8l1 -4.6l1 -1l1 -6.5l1 13.3l1 .6l1 -13.4l1 5.5l1 1.7l1 4.4l1 1.9l1 5.8l1 2.1l1 -1.2l1 1.9l1 -15.2l1 3.1l1 9.5l1 -5.7l1 -1.7l1 -11.7l1 1.5l1 16.5l1 -1.5l1 -3.3l1 -.7l1 -8.4l1 11.9l1 3.3l1 -25.5l1 18.8l1 -1.8l1 -5.5l1 13.7l1 2.6l1 -14.3l1 5.2l1 -1.5l1 -4l1 -10.1l1 12.1l1 6.9l1 -11l1 5.1l1 -7.3l1 22.8l1 -3.7l1 -2.1l1 -1.7l1 -2.7l1 2.5l1 -2.5l1 -.9l1 .3l1 .4l1 8.3l1 -17.9l1 10.6l1 -5l1 -2.9l1 -6.8l1 17.5l1 -9.4l1 1.8l1 8.1l1 -8.1l1 7.9l1 .6l1 6l1 1.7l1 -11.2l1 10.7l1 -6.2l1 1.3l1 -1.9l1 6.2l1 -11.5l1 9.5l1 6.2l1 -8.1l1 14.2l1 -16.4l1 5.6l1 -4.2l1 -.6l1 -2.3l1 4.7l1 4.4l1 -3.1l1 11.3l1 4.5l1 -18.1l1 14.1l1 -4.2l1 -.1l1 12l1 -7.1l1 -5.7l1 -1.4l1 -14.6l1 17.3l1 -9.4l1 5.5l1 -.5l1 5.1l1 6.1l1 -6.6l1 1.5l1 -9.1l1 4.3l1 2.3l1 -12.7l1 21.4l1 -16l1 -2.8l1 18.2l1 3.9l1 -15.5l1 2l1 18.8l1 -12.2l1 -12.2l1 7.9l1 15l1 -9l1 -.4l1 2l1 -3.9l1 -6.3l1 -7.6l1 12.6l1 -8.7l1 7.2l1 11.5l1 -6.9l1 -2.9l1 -.3l1 3.5l1 .6l1 -13.9l1 8.5l1 8.5l1 -6.5l1 -9.6l1 .3l1 -8l1 8.5l1 15.9l1 -8.4l1 -3l1 2.9l1 3.5l1 .1l1 -2.1l1 -3.5l1 -13.9l1 24.8l1 -14.3l1 -1.2l1 9.4l1 -16.3l1 5.5l1 2.2l1 4.8l1 -1l1 -2l1 8.4l1 -8.6l1 -3.6l1 -2.8l1 15.1l1 -16.7l1 11.5h1l1 -.1l1 -6l1 -1.7l1 5.1l1 -2.4l1 -2.2l1 17l1 -11.6l1 17.1l1 -7.2l1 -5.6l1 5.5l1 4.9l1 -15.5l1 2.9l1 -.6l1 7.2l1 1.1l1 -3l1 -5.3l1 .6l1 10.1l1 -.2l1 -5.3l1 -8l1 12l1 -1.9l1 -.3l1 8.8l1 -5.2l1 -10.2l1 .9l1 15.2l1 -5.9l1 5.2l1 -5.2l1 -4.6l1 7.8l1 7.8l1 -7.2l1 -8.6l1 5.4l1 -.5l1 4.7l1 5.5l1 5.8l1 -10.7l1 -4.4l1 2.3l1 -1.1l1 -3.5l1 2.1l1 -.8l1 -7.5l1 10l1 -5.7l1 -3.9l1 8.4l1 -6.6l1 12.5l1 -8.7l1 -3.3l1 -5.6l1 2l1 7.6l1 -9.1l1 8.4l1 -18l1 12.6l1 2.2l1 -4.3l1 -3.3l1 5.4l1 -11.4l1 -.4l1 7.4l1 7.9l1 -3l1 -2l1 4.7l1 2.7l1 -8.4l1 -5.3l1 9.5l1 -2l1 5.7l1 -4.1l1 1.1l1 6.6l1 -3l1 -1.4l1 9.9l1 -12.7l1 .6l1 9.9l1 -14.4l1 -3.4l1 17.4l1 -5.9l1 1.5l1 .2l1 1.6l1 -8.1l1 2.6l1 -5.8l1 8.2l1 1.3l1 -3.5l1 7.3l1 9.4l1 -19.7l1 12.1l1 .8l1 .9l1 -11.1l1 12.2l1 -3l1 -4.2l1 -.8l1 4.2l1 4.9l1 .3l1 8l1 -15l1 5.3l1 -7.3l1 6l1 -5.3l1 -5.6l1 -5.2l1 2.9l1 5.7l1 7.1l1 -4.5l1 -12.2l1 4l1 3.1l1 -.6l1 1.6l1 5l1 -2.6l1 -4.8l1 -7l1 9.8l1 -8l1 8.9l1 2.4l1 -10.3l1 6.6l1 -1.9l1 12.7l1 -9.5l1 -14.8l1 13.4l1 -.5l1 -3.9l1 -1l1 5.8l1 .3l1 -1.5l1 -8.7l1 4.5l1 -7.6l1 .7l1 6.1l1 -2.2l1 4.8l1 17.9l1 -10.3l1 -7.2l1 -6.7l1 8.9l1 -2.6l1 -3.5l1 18.5l1 -6.5l1 5.9l1 11.7l1 -13.4l1 -1.5l1 .8l1 -4l1 -3.4l1 3.7l1 8.2l1 -8.4l1 -6.6l1 .8l1 1.3l1 6.2l1 2.7l1 -.2l1 4.2l1 -8.5l1 6.2l1 -3.2l1 2.1l1 -15.7l1 18.1l1 -17.2l1 2.3l1 11.4l1 -6.9l1 13.2l1 -9.4l1 -7.2l1 6.7l1 -4.2l1 10.6l1 -.9l1 -6.6l1 -8l1 2.1l1 5.2l1 -11.4l1 -.1l1 10l1 -.5l1 -5.4l1 .4l1 -9.2l1 19.9l1 -6.7l1 -6.8l1 2.7l1 2l1 16l1 -5.9l1 -11.9l1 19.5l1 -2.4l1 -13.4l1 -6.3l1 20.9l1 -8.2l1 3.6l1 -2l1 10.7l1 .8l1 -4.6l1 -6.4l1 1.8l1 1.5l1 -13.8l1 16.2l1 -10.3l1 2.3l1 -2.1l1 3.3l1 -.2l1 6l1 -15.6l1 -3.3l1 6.6l1 -4.1l1 9.7l1 -9.3l1 6.3l1 5.4l1 .7l1 -5l1 6.7l1 -1.4l1 -18.6l1 11.8l1 -1.3l1 -2.9l1 -2l1 4.1l1 2l1 -.8l1 6.3l1 -2.3l1 -9.4l1 -.8l1 10l1 -8.7l1 5.9l1 2.7l1 4.3l1 -2.1l1 6.3l1 -10.9l1 6.8l1 -8.2l1 4.4l1 -1.3l1 -7.5l1 -9.9l1 18l1 -5.4l1 -3l1 -6.2l1 1.9l1 5.5l1 -.9l1 9.1l1 -4l1 -3.9l1 9.4l1 -7.5l1 4.3l1 -13.3l1 7.8l1 4.6l1 -7.6l1 3.9l1 4.2l1 -2.3l1 11.3l1 -11.3l1 1.2l1 .3l1 -11.2l1 1.8l1 11.4l1 -6.2l1 9.8l1 -8.7l1 .3l1 8.7l1 -2.6l1 9.9l1 -14.4l1 10l1 1.8l1 -1.1l1 2.8l1 -1.8l1 -7l1 -4.6l1 8.4l1 -6.1l1 5.2l1 2.4l1 -6.8l1 -6.3l1 4.2l1 6.8l1 -5.5l1 9.2l1 -6l1 1.2l1 -4l1 3.3l1 6.9l1 -9.2l1 -.7l1 -3.4l1 9l1 -13.9l1 5.6l1 10l1 3.9l1 -9.3l1 7.6l1 -17.6l1 16.1l1 -3.3l1 -10l1 -4.3l1 6.6l1 3.6l1 -.2l1 -2.1l1 3.7l1 -.1l1 -11.8l1 6.8h1l1 9.8l1 -8.9l1 8.9l1 -5.7l1 12.5l1 -14.2l1 -.2l1 -1.1l1 1.2l1 12.5l1 -16.2l1 -1.8l1 4.6l1 5.9l1 -9.5l1 10.9l1 -.1l1 -5.7l1 -.6l1 -3l1 3.7l1 -2.1l1 13.6l1 3.7l1 -10.3l1 2.3l1 -10.9l1 8l1 4.5l1 -1.5l1 -2.1l1 3.2l1 -5.3l1 -3.4l1 11.8l1 -20.9l1 4.6l1 2.5l1 -.4l1 -1l1 2.4l1 -3.9l1 3.2l1 3.8l1 -2.8l1 1.6l1 -5.2l1 -.2l1 5.3l1 7.1l1 -4l1 3.6l1 -.9l1 1l1 -11l1 12.9l1 -2.5l1 7.8l1 -9.1l1 -1.9l1 -3l1 1.8l1 -10.7l1 8.4l1 1l1 5.6l1 -10.7l1 3.8l1 9.2l1 -14.7l1 7.8l1 -8.4l1 2.6l1 3.5l1 2.5l1 -8.3l1 -3.7l1 14.3l1 -9.2l1 2.1l1 -.8l1 -2l1 -6.4l1 1.2l1 -7.2l1 12.2l1 -1.8l1 4.6l1 12.7l1 -6.1l1 -3.4l1 -8.5l1 12.4l1 4.7l1 -13.5l1 8l1 -5l1 2.5l1 -1.5l1 -8.3l1 5.2l1 -8.1l1 16.4l1 -2.7l1 -5.8l1 2.5l1 .6l1 3l1 2.2l1 -.8l1 1.6l1 -6.5l1 1.7l1 1.5l1 3.6l1 -4.9l1 12l1 -13.7l1 -2.2l1 3.9l1 3.3l1 5l1 -4.8l1 -8.6l1 3l1 7.5l1 -4.6l1 3.3l1 -5l1 10.2l1 -.4l1 -1.5l1 -5.4l1 -10.3l1 1.5l1 9.7l1 1.8l1 -17.8l1 11.2l1 9.6l1 -1.1l1 -8.4l1 6.5l1 -3.8l1 -2l1 7.2l1 -.6l1 -10.2l1 -2.7l1 -2l1 -.3l1 16.7l1 4l1 -8.9l1 6.1l1 -8.9l1 4.9l1 6.9l1 -2.8l1 -1.9l1 -10l1 .3l1 4.8l1 -2.3l1 1.6l1 -4.1l1 2.5l1 2.6l1 4.3l1 -.4l1 -1.4l1 3.3l1 8l1 -6.3l1 -5.1l1 -1.4l1 6.3l1 .7l1 3.6l1 -8.8l1 10.4l1 -9.8l1 .6l1 -2.6l1 5.2l1 1.8l1 -7.5l1 -3.7l1 -6.6l1 9.7l1 -2.5l1 1.7l1 -1.1l1 .2l1 4.1l1 6.4l1 3.6l1 -5.4l1 1.7l1 -3.5l1 -.2l1 -7.8l1 12.5l1 -2.2l1 4.4l1 -12.6l1 4l1 -6.3l1 6.8l1 -1.8l1 5.2l1 -4.1l1 5.4l1 -6l1 6.7l1 -4.9l1 -.5l1 3.8l1 2.8l1 -8.8l1 .9l1 11l1 -1l1 -11.9l1 .9l1 4l1 4.8l1 -1.9l1 3.8l1 .5l1 6.9l1 -21.6l1 8.8l1 7.1l1 -13.1l1 -.7l1 9.2l1 4.9l1 .4l1 -18.4l1 2.5l1 5.6l1 -3.2l1 4.6l1 -.9l1 10.1l1 -9.6l1 2.3h1l1 6l1 -13.6l1 7.6l1 -8.1l1 -4.9l1 14.2l1 -4.3l1 5.2l1 -6.2l1 3.2l1 -1.9l1 3.7l1 -4.6l1 13.2l1 -14.7l1 15.3l1 -11.3l1 5.9l1 -4.9l1 1l1 5.2l1 -8.9l1 -7.4l1 5.9l1 1.6l1 -18.5l1 19.5l1 .7l1 -16.7l1 9.5l1 5.7l1 -12.1l1 3.7l1 -.3l1 4.7l1 2.9l1 -6.7l1 .9l1 5.6l1 -1.7l1 -3.1l1 9.4l1 -14.9l1 10.8l1 -1.9l1 .9l1 5l1 -.6l1 12.9l1 -10.4l1 -2.7l1 6.6l1 -4.6l1 -17.5l1 11.7l1 4.3l1 -6.7l1 6.8l1 -3l1 6l1 -11.3l1 -2l1 7.9l1 4l1 6l1 -9.9l1 -3.1l1 9.7l1 -5.3l1 10.5l1 -11.1l1 -10.9l1 6.9l1 -1.1l1 -2.8l1 3.3l1 .3l1 2.3l1 -1.4l1 6.2l1 1l1 -.1l1 1.5l1 -11.1l1 2.1l1 5.1l1 6.6l1 -10.7l1 5.3l1 3.1l1 9.6l1 -10.7l1 -5l1 9.5l1 -5.7l1 -3.6l1 7.5l1 -12.9l1 -11.7l1 17.2l1 5.5l1 -11.2l1 .1l1 6.1l1 1.2l1 2.2l1 -2.3l1 5.1l1 1.9l1 -2.4l1 -7.5l1 12.8l1 -16.8l1 6.6l1 5l1 -10.3l1 10.3l1 3.1l1 -2.2l1 -6.7l1 3.6l1 -8.2l1 6.2l1 1.3l1 -1.2l1 1.3l1 -1.7l1 -10.5l1 13.6l1 -1.5l1 9.4l1 -8.9l1 -4.3l1 4.7l1 -1l1 -2.9l1 -1.1l1 -5.3l1 10.4l1 9.7l1 -20.3l1 5.9l1 10.7l1 -2.6l1 2.3l1 -12.5l1 8.5l1 7.3l1 .9l1 -1.7l1 -7.4l1 7.9l1 -11.2l1 .7l1 -2.2l1 14.9l1 -11.8l1 2.3l1 -13.9l1 19.3l1 -4l1 -12.9l1 .2l1 19.3l1 -15.8l1 16.4l1 -14.1l1 -11.2l1 20.2l1 -3.8l1 .8l1 -7.4l1 1.7l1 7.1l1 -10.4l1 -6.6l1 17.3l1 -9.4l1 10.7l1 -11.3l1 -.3l1 .6l1 -12.1l1 21.3l1 -10.1l1 3.5l1 10.6l1 -7.6l1 5l1 -3.2l1 2.8l1 -2.8l1 5.4l1 -8.3l1 3.6l1 -20.3l1 23.5l1 -20.4l1 14.4l1 1.9l1 1l1 -.8l1 9.5l1 5.9l1 -15.4l1 -7.3l1 4.9l1 1.1l1 3.2l1 -.6l1 5.8l1 -9.8l1 1.9l1 .7l1 -6.2l1 3l1 15.2l1 -15.2l1 -5.9l1 -7.8l1 18.9l1 -8.4l1 -2.1l1 17.5l1 -5.5l1 -18.8l1 8.7l1 9l1 .5l1 -9.9l1 19.3l1 2.3l1 -16.4l1 -3.1l1 2.4l1 -9.5l1 23l1 -6.5l1 -5.9l1 2.1l1 3.6l1 -10.6l1 -2.3l1 10.4l1 8.5l1 -5.9l1 .1l1 -5.4l1 9.4l1 -15.7l1 10.2l1 -2.5l1 3.5l1 -3.7l1 10.8l1 -4.4l1 -3l1 6.3l1 -4l1 -3.8l1 -1.5l1 7l1 -11.3l1 3.5l1 -.7l1 3.2l1 -3.2l1 14l1 -23.6l1 14l1 -3.7l1 7.1l1 -16l1 17.4l1 -15.7l1 11.9l1 -2.1l1 -4.2l1 -6.1l1 -1.8l1 4.2l1 -6.1l1 -7.9l1 .5l1 15.6l1 .6l1 -1.2l1 -1.9l1 3l1 1.7l1 -.6l1 -5.6l1 1.1l1 -1.9l1 8.4l1 -6.2l1 5.5l1 9.3l1 -10.1l1 7.9l1 3l1 -21.1l1 1.4l1 10.5l1 -8.1l1 6.5l1 .2l1 -8l1 7.7l1 5.5l1 -4.3l1 -10.2l1 5.4l1 -1.4l1 13.6l1 -9.8l1 -2.5l1 4.4l1 2.3l1 -6.1l1 1.9l1 -1.5l1 3.8l1 1.2l1 -4.3l1 -4.3l1 5.3l1 -7.8l1 11.8l1 -4.5l1 -.7l1 -15.4l1 27.8l1 -4.6l1 -.4l1 -5.9l1 4.4l1 10.8l1 -16.8l1 9.3l1 -.6l1 -2.8l1 .8l1 -8.7l1 8.8l1 -12.8l1 17.6l1 -7.4l1 -10.9l1 -7.9l1 13.1l1 2.7l1 -8.5l1 16.5l1 -8.2l1 -4.4l1 -5.9l1 7.3l1 -.8l1 5l1 2.5l1 -5.7l1 3.2l1 6.4l1 -4.3l1 -4.8l1 5.4l1 -7l1 5.2l1 -3.5l1 -8.3l1 8.8l1 -4.3l1 3.4l1 -12.2l1 15.4l1 1.4l1 -7.6l1 2.8l1 2l1 .5l1 5.7l1 -8.9l1 -2.5l1 5.3l1 12.5l1 -14.4l1 -4.7l1 -.7l1 5.4l1 5l1 -22.7l1 15.5l1 .1l1 1.6l1 -1.8l1 5.8l1 -1.7l1 -7.1l1 18.3l1 -20.4l1 1.7l1 15.5l1 -3.8l1 -1.6l1 3.4l1 3.2l1 -6.8l1 -1.8l1 -3.3l1 .3l1 -.3l1 11.5l1 -4.9l1 2.4l1 -5.4l1 10.9l1 -14.7l1 12.7l1 1.4l1 -8l1 -3.3l1 8.6l1 -8.2l1 -1.8l1 4.5l1 -7.1l1 5.5l1 12.6l1 -15.3l1 7.4l1 -12.5l1 6.3l1 -2.3l1 .8l1 6l1 8.8l1 -13.5l1 8.3l1 -6.3l1 1.6l1 -7.7l1 -1.2l1 3.7l1 -2.3l1 5.9l1 -5.3l1 6.8l1 1.2l1 9.8l1 -.4l1 -6.6l1 -5.3l1 7.5l1 1.7l1 -6.3l1 -4.6l1 -6.7l1 9.6l1 10.9l1 -13.2l1 3.3l1 -.3l1 .7l1 1.7l1 -16.4l1 11.8l1 4.1l1 -1.4l1 9.5l1 -7.9l1 9.3l1 6.2l1 -11.4l1 2l1 -2l1 6.1l1 -17.8l1 3.8l1 6.9l1 7.2l1 -1.3l1 -8l1 14.8l1 -9.1l1 -5.1l1 5.9l1 3.2l1 -9.4l1 -9.6l1 5.4l1 3.8l1 5.1l1 -11.7l1 7.4l1 -8.8l1 7.6l1 -8.3l1 5.5l1 -6l1 3.5l1 -3.7l1 -2.8l1 18.4l1 -1.4l1 -5.2l1 -5.7l1 10.9l1 -9.9l1 5.5l1 5.7l1 -4.1l1 8.6l1 -9.1l1 .2l1 1.6l1 -7.9l1 .3l1 11l1 -15l1 17.2l1 -5.2l1 5.3l1 -2.8l1 -1.2l1 6.7l1 -10.9l1 -.1l1 7.3l1 -11l1 10.2l1 -3.4l1 -7.9l1 -5.3l1 -5.2l1 22.7l1 -21l1 1l1 12.1l1 -2.1l1 -.7l1 .7l1 -1.4l1 -1.4l1 2.3l1 8.7l1 3.1l1 .4l1 -8.1l1 -14.3l1 15.3l1 -5l1 -14l1 22.2l1 -6.8l1 -1.1l1 2.1h1l1 .9l1 -.8l1 -1l1 2.6l1 -2.3l1 10.4l1 -13.1l1 -3.8l1 .4l1 7.4h1l1 1.9l1 -1.9l1 .1l1 5.3l1 3l1 -6.8l1 -3.3l1 -6.8l1 -.2l1 7.2l1 -1.7l1 1l1 -5.9l1 6.1l1 -10.7l1 4.7l1 2.3l1 8l1 -7.8l1 -2.8l1 6.3l1 -2.9l1 5.6l1 -3.7l1 -.5l1 -1.9l1 5.9l1 -7.3l1 -3.5l1 16l1 -6.8l1 4.6l1 4.5l1 3.2l1 -20.9l1 9.2l1 13.7l1 -17.8l1 12.6l1 -5.8l1 -4.3l1 3.1l1 -11l1 11.2l1 3.3l1 -16.7l1 3.8l1 10.9l1 -5.1l1 -3.9l1 11l1 -18.1l1 9.1l1 2.7l1 -2.3l1 6.5l1 -15.3l1 9.7l1 -5.6l1 11.3l1 -1.6l1 -11.4l1 -3l1 5.3l1 -6l1 .8l1 5.4l1 -5.6l1 13.8l1 -10.1l1 -2.9l1 -3l1 4.4l1 10.7l1 -2.1l1 6.8l1 1l1 -2.7l1 -5.8l1 4.7l1 2.1l1 -10.4l1 11.1l1 -9.9l1 3.6l1 -4.9l1 4.6l1 8.9l1 -21.8l1 6.9l1 12.9l1 -17.2l1 5.1l1 1.7l1 3.4l1 -10.9l1 11.8l1 1.7l1 9.8l1 -14.8l1 -3.5l1 3.7l1 -15l1 15.3l1 6.9l1 -10l1 -18.4l1 16.3l1 2.1l1 -8.3l1 17.1l1 -11.5l1 .8l1 13.5l1 -9.2l1 -2l1 13l1 -8.4l1 5l1 -8.9l1 -7.3l1 11.2l1 6.8l1 -12.3l1 4.3l1 1.9l1 -2.5l1 -.3l1 5.5l1 -1.9l1 -3.1l1 10.7l1 -.6l1 -2l1 2.6l1 -17.9l1 16.2l1 -.7l1 -11.7l1 24.9l1 -10.3l1 -5l1 .1l1 3.7l1 -1.6l1 -9.2l1 7.7l1 5.6l1 1.2l1 1.5l1 -11.9l1 1.9l1 5.3l1 -6.9l1 4.2l1 -7l1 8.1l1 -3.4l1 3.1l1 -3.4l1 -5.3l1 -3.2l1 6.9l1 -4.8l1 -6.1l1 5l1 7.8l1 2.7l1 -2.7l1 3.9l1 -10.2l1 1.3l1 -4.9l1 1l1 14.3l1 -7l1 1.5l1 9.6l1 -1.3l1 -16.5l1 11.4l1 -10.2l1 10.8l1 -17.1l1 5.7l1 .2l1 17.7l1 -22.7l1 17.5l1 -.1l1 -5.7l1 4.3l1 8.2l1 -11.8l1 -3.4l.5 9.5" stroke="#70bf46" fill="none" stroke-width="7.0" stroke-linejoin="round" stroke-linecap="round"/>
<rect x="224.0" y="261.7" width="23" height="25" fill="none" stroke="#70bf46" stroke-width="7.0"/>
<rect x="497.1" y="1415.4" width="23" height="25" fill="none" stroke="#70bf46" stroke-width="7.0"/>
<rect x="770.2" y="1452.3" width="23" height="25" fill="none" stroke="#70bf46" stroke-width="7.0"/>
<rect x="1043.3" y="1501.8" width="23" height="25" fill="none" stroke="#70bf46" stroke-width="7.0"/>
<rect x="1316.4" y="1505.4" width="23" height="25" fill="none" stroke="#70bf46" stroke-width="7.0"/>
<rect x="1589.5" y="1500.3" width="23" height="25" fill="none" stroke="#70bf46" stroke-width="7.0"/>
<rect x="1862.6" y="1517.8" width="23" height="25" fill="none" stroke="#70bf46" stroke-width="7.0"/>
<rect x="2135.7" y="1519.3" width="23" height="25" fill="none" stroke="#70bf46" stroke-width="7.0"/>
<path clip-path="url(#cp)" d="M235.5 274.0l.5 -.2l.5 -.1l.5 -.1l.5 -.2h.5l.5 -.1l.5 -.1l.5 -.1h.5h.5l.5 -.1h.5h.5h.5h.5h.5h.5h.5l.5 .1l.5 .2l.5 .2l.5 .3l.5 .4l.5 .4l.5 .4l.5 .6l.5 1.1l.5 1.5l.5 2l.5 2.6l.5 3.2l.5 7l.5 7l.5 7.2l.5 7.3l.5 7.6l.5 7.9l.5 8.5l.5 8.9l.5 9.5l.5 10.1l.5 10.5l.5 10.7l.5 10.9l.5 10.9l.5 10.6l.5 10.4l.5 10.2l.5 10.1l.5 9.9l.5 9.8l.5 9.7l.5 9.7l.5 9.6l.5 9.6l.5 9.6l.5 9.6l.5 9.6l.5 9.7l.5 9.7l.5 9.8l.5 10l.5 10.1l.5 10.2l.5 10.5l.5 10.7l.5 10.9l.5 11.1l.5 11.4l.5 11.5l.5 11.8l.5 12l.5 12.2l.5 12.4l.5 12.3l.5 12.2l.5 11.8l.5 11.4l.5 10.8l.5 10.2l.5 9.7l.5 9.2l.5 8.6l.5 8.3l.5 7.9l.5 7.6l.5 7.3l.5 7.2l.5 6.9l.5 6.8l.5 6.6l.5 6.6l.5 6.4l.5 6.3l.5 6.2l.5 6.1l.5 6l.5 6l.5 5.9l.5 5.8l.5 5.6l.5 5.6l.5 5.4l.5 5.3l.5 5.2l.5 5.1l.5 5l.5 4.8l.5 4.7l.5 4.6l.5 4.5l.5 4.4l.5 4.3l.5 4.1l.5 4.1l.5 4l.5 3.9l.5 3.8l.5 3.8l.5 3.6l.5 3.7l.5 3.6l.5 3.5l.5 3.5l.5 3.5l.5 3.5l.5 3.5l.5 3.4l.5 3.5l.5 3.4l.5 3.5l.5 3.4l.5 3.5l.5 3.5l.5 3.6l.5 3.5l.5 3.6l.5 3.6l.5 3.7l.5 3.8l.5 3.8l.5 3.9l.5 4l.5 4.1l.5 4.2l.5 4.3l.5 4.2l.5 4.2l.5 4l.5 3.9l.5 3.7l.5 3.5l.5 3.2l.5 3.1l.5 2.9l.5 2.8l.5 2.6l.5 2.4l.5 2.4l.5 2.2l.5 2.2l.5 2l.5 2.1l.5 1.9l.5 2l.5 1.9l.5 1.8l.5 1.9l.5 1.8l.5 1.8l.5 1.8l.5 1.8l.5 1.8l.5 1.8l.5 1.8l.5 1.7l.5 1.8l.5 1.8l.5 1.9l.5 1.8l.5 1.8l.5 1.9l.5 1.9l.5 1.9l.5 1.8l.5 1.9l.5 1.9l.5 1.9l1 3.6l1 3.6l1 3.7l1 3.3l1 3.3l1 3.1l1 3.2l1 3.4l1 2.7l1 3.1l1 3.9l1 1.8l1 1l1 5l1 1.1l1 1l1 4l1 1.2l1 1.2l1 1.9l1 1.3l1 3.1l1 3.2l1 -.3l1 3.1l1 4.5l1 -3.2l1 4.9l1 1.1l1 .7l1 2.3l1 4.4l1 3.5l1 .1l1 3.9l1 4.2l1 1.2l1 3.7l1 .7l1 1.6l1 5.4l1 -2.6l1 -.6l1 3l1 -4.5l1 3.1l1 5.2l1 .8l1 4.9l1 -4.4l1 -4.5l1 15.1l1 -2.5l1 -8.5l1 11l1 -5.4l1 -7.8l1 7.2l1 .6l1 11.3l1 -10.4l1 3.9l1 1.1l1 .5l1 -1.9l1 6.8l1 5.4l1 -1.8l1 -7.9l1 -.4l1 8.2l1 -3.9l1 1.2l1 -5.9l1 22l1 -6.2l1 -11.8l1 11.4l1 2.4l1 -23.7l1 10.5l1 .5l1 6.5l1 -4.9l1 -.1l1 2.1l1 14.1l1 3.6l1 -16.8l1 -1.4l1 23.2l1 -21.5l1 3.5l1 4.7l1 3.4l1 4.1l1 -3.9l1 -7.9l1 10.9l1 -.4l1 12.6l1 -12.5l1 -9.2l1 1.7l1 16.8l1 -14.6l1 -11.2l1 10.7l1 4.3l1 8.9l1 -14.8l1 12.5l1 1.9l1 -9.3l1 4.9l1 15l1 .9l1 -4.8l1 -2.6l1 6.6l1 -8.2l1 .8l1 -5.2l1 6l1 -.8l1 16.5l1 -17.5l1 10.5l1 .9l1 -9.6l1 10.8l1 -21.8l1 17.6l1 6.8l1 -21l1 8.7l1 15.8l1 -9l1 -5.6l1 5.6l1 -.2l1 9.9l1 -.9l1 -4.6l1 -2.7l1 3.6l1 8.5l1 -8.2l1 .8l1 -6.4l1 -8.2l1 4.3l1 10.1l1 -3.3l1 -6.8l1 -5.1l1 11.6l1 -3.8l1 -.6l1 -.1l1 4.3l1 .4l1 5.2l1 .6l1 3.8l1 -2.6l1 -7l1 2.9l1 4.5l1 -5l1 6.8l1 5.2l1 -12.4l1 -5.3l1 22.3l1 -6.8l1 6.2l1 -13.1l1 22.2l1 -6.5l1 -6l1 -1.8l1 2.9l1 -2.1l1 -.5l1 -4.9l1 18.2l1 -7.2l1 3l1 2.4l1 -14.7l1 21.6l1 -4.7l1 1l1 2.5l1 -7.9l1 11.5l1 -12.1l1 -2.6l1 -.5l1 7.2l1 5l1 -7.6l1 -4.2l1 20.4l1 -12.9l1 17.1l1 -8.3l1 -4.8l1 -.2l1 7.1l1 2.7l1 -7.2l1 9l1 9.3l1 -14.7l1 -5.4l1 1.4l1 -2.2l1 5l1 -1.4l1 -5.5l1 11.5l1 -21.3l1 5.7l1 22.8l1 -6.7l1 -2.7l1 .9l1 10.8l1 -7l1 -1.8l1 -8.2l1 8.2l1 -5.3l1 -1.1l1 -1.8l1 2.7l1 -3.7l1 6.9l1 -16.4l1 7.3l1 13.7l1 -13l1 8.2l1 -.1l1 1.7l1 -3.6l1 -14.4l1 8.1l1 -.7l1 -8.3l1 7.4l1 -6l1 -3.5l1 12.4l1 -2.4l1 -4.9l1 -2l1 3.1l1 1.5l1 .6l1 3.5l1 -1.5l1 7.1l1 2.3l1 -.1l1 -6.5l1 .4l1 7.3l1 -4.6l1 1l1 -15.7h1l1 18.2l1 -.7l1 6.2l1 -6.3l1 -5.1l1 -2.7l1 -10.8l1 16.1l1 -9.9l1 8.7l1 -1.1l1 1.4l1 5.1l1 -9.2l1 1.3l1 -2.5l1 4.4l1 15.5l1 -13.2l1 11.4l1 -2.5l1 -1.2l1 -.4l1 -13.7l1 8.8l1 7.8l1 -16.4l1 4.5l1 -4.4l1 7.4l1 -9.3l1 19.3l1 -13.3l1 -7.6l1 24l1 -5.2l1 -2.8l1 .4l1 -5.9l1 1.2l1 6.9l1 1.5h1l1 -5.5l1 -5.4l1 1.1l1 8.3l1 1.9l1 -12.4l1 -.1l1 13.5l1 -1.8l1 1.6l1 -12.8l1 7.1l1 -1.4l1 3.9l1 -14.7l1 19.3l1 -7.9l1 .2l1 -11.7l1 7.9l1 9.6l1 -20.1l1 13.6l1 3.5l1 -8.9l1 11.4l1 -7.3l1 11.4l1 -5l1 -2.5l1 11.9l1 -9l1 2.6l1 -18l1 3.6l1 10.4l1 .6l1 -6.6l1 5.8l1 -13.2l1 8.6l1 -10l1 10.2l1 -5.8l1 -.9l1 5.1l1 12.7l1 -19.6l1 3.1l1 11.8l1 -10.4l1 15.4l1 -10.7l1 -.4l1 2.7l1 11.1l1 -6l1 .6l1 -.5l1 -12l1 4.8l1 16l1 -5.9l1 -3.8l1 -.8l1 -9.8l1 4.8l1 -9.5l1 8.6l1 -7.9l1 3.6l1 4.7l1 -5.4l1 6.9l1 -1.3l1 -.3l1 7.3l1 -18.6l1 .2l1 16.4l1 3l1 7.8l1 -8.7l1 .4l1 -12.2l1 11.2l1 -1l1 -12.6l1 .6l1 5l1 2.6l1 -18.2l1 16.7l1 1.3l1 -2.6l1 3.5l1 1.7l1 -9.5l1 11.1l1 -3.1l1 -3l1 10l1 10.7l1 -19.4l1 -.6l1 .2l1 25.3l1 -15.9l1 1l1 -5.4l1 -1.1l1 -7.6l1 15.5l1 .8l1 -15.7l1 6.5l1 2l1 5l1 2.2l1 6.7l1 2.3l1 -1.5l1 2.2l1 -17.8l1 3.8l1 11.2l1 -6.6l1 -2l1 -13.7l1 1.6l1 19.1l1 -2l1 -4l1 -.9l1 -9.7l1 13.9l1 3.9l1 -29.7l1 21.9l1 -2.1l1 -6.5l1 15.9l1 3.1l1 -16.7l1 5.9l1 -1.7l1 -4.8l1 -12l1 14l1 7.7l1 -13.1l1 5.5l1 -8.8l1 26.2l1 -4.6l1 -2.7l1 -2.2l1 -3.2l1 2.9l1 -3l1 -.9l1 .3l1 .3l1 9.6l1 -21.1l1 12.1l1 -6.1l1 -3.6l1 -8.2l1 20.2l1 -11.2l1 1.9l1 9.2l1 -10l1 8.9l1 .2l1 6.8l1 1.7l1 -13.3l1 12.3l1 -7.4l1 1.3l1 -2.4l1 6.9l1 -13.6l1 10.8l1 6.9l1 -9.7l1 16.4l1 -19.4l1 6.4l1 -5.1l1 -.8l1 -3l1 5.1l1 4.7l1 -3.9l1 12.8l1 5l1 -21.2l1 16.3l1 -5l1 -.2l1 14l1 -8.3l1 -6.7l1 -1.7l1 -17l1 20.1l1 -11l1 6.3l1 -.7l1 5.8l1 7.1l1 -7.7l1 1.7l1 -10.8l1 5l1 2.5l1 -15l1 24.8l1 -18.9l1 -3.4l1 21l1 4.4l1 -18.5l1 2.1l1 21.6l1 -14.4l1 -14.4l1 9.2l1 17.5l1 -10.4l1 -.4l1 2.4l1 -4.4l1 -7.5l1 -8.9l1 14.6l1 -10.3l1 8.2l1 13.3l1 -8.2l1 -3.5l1 -.3l1 4.1l1 .8l1 -16.2l1 9.9l1 10l1 -7.5l1 -11.2l1 .3l1 -9.4l1 9.8l1 18.2l1 -10.1l1 -3.9l1 3.2l1 3.9l1 .1l1 -2.4l1 -4l1 -16.1l1 29.2l1 -16.4l1 -1.3l1 11.1l1 -19l1 6.4l1 2.3l1 5.3l1 -1.4l1 -2.7l1 9.5l1 -10.1l1 -4.2l1 -3.1l1 17.8l1 -19.2l1 13.6l1 .2l1 .1l1 -7.1l1 -2.1l1 5.7l1 -3.1l1 -3l1 19.5l1 -13.7l1 19.7l1 -8.5l1 -6.6l1 6.3l1 5.7l1 -18.1l1 3.3l1 -.7l1 8.4l1 1.2l1 -3.4l1 -6.1l1 .8l1 11.7l1 -.2l1 -6.3l1 -9.5l1 13.9l1 -2.3l1 -.3l1 10.3l1 -6.2l1 -12.1l1 .9l1 17.5l1 -7.1l1 5.9l1 -6.2l1 -5.5l1 9l1 9.1l1 -8.5l1 -10l1 6.2l1 -.7l1 5.3l1 6.3l1 6.7l1 -12.4l1 -5.1l1 2.8l1 -1.2l1 -3.9l1 2.4l1 -.7l1 -8.8l1 11.8l1 -6.7l1 -4.6l1 9.9l1 -7.5l1 14.6l1 -10l1 -3.7l1 -6.5l1 2.3l1 8.9l1 -10.7l1 9.8l1 -20.8l1 14.8l1 2.8l1 -4.8l1 -3.6l1 6.4l1 -13.3l1 -.5l1 8.4l1 9l1 -3.8l1 -2.7l1 5.3l1 2.7l1 -10.1l1 -6.4l1 10.8l1 -2.5l1 6.7l1 -4.8l1 1.4l1 7.9l1 -3.3l1 -1.6l1 11.6l1 -14.8l1 .6l1 11.5l1 -16.8l1 -3.9l1 20.3l1 -6.9l1 1.8l1 .2l1 1.9l1 -9.5l1 3l1 -6.9l1 9.4l1 1.4l1 -4.2l1 8.4l1 11l1 -23.2l1 14.1l1 1l1 1l1 -13l1 14.2l1 -3.6l1 -5l1 -1l1 4.7l1 5.6l1 .2l1 9.3l1 -17.5l1 6.3l1 -8.4l1 7.2l1 -6l1 -6.3l1 -6l1 3.5l1 6.7l1 8.3l1 -5.2l1 -14.2l1 4.7l1 3.6l1 -.8l1 1.8l1 5.7l1 -3.2l1 -5.8l1 -8.2l1 11.4l1 -9.4l1 10.3l1 3l1 -12.1l1 7.8l1 -2.1l1 14.9l1 -10.9l1 -17.2l1 15.6l1 -.5l1 -4.4l1 -1.3l1 6.8l1 .3l1 -1.7l1 -10.1l1 5.2l1 -9l1 .8l1 7l1 -2.7l1 5.4l1 20.6l1 -12.1l1 -8.7l1 -8l1 10.2l1 -3.2l1 -4.2l1 21.4l1 -7.7l1 6.7l1 13.8l1 -15.6l1 -1.7l1 1.1l1 -4.7l1 -4l1 4.3l1 9.5l1 -9.8l1 -7.7l1 .9l1 1.5l1 7.2l1 3.2l1 -.2l1 4.9l1 -9.9l1 7.2l1 -3.6l1 2.4l1 -18.2l1 21.1l1 -20l1 2.7l1 13.3l1 -8l1 15.4l1 -11.1l1 -8.4l1 7.8l1 -4.7l1 12.5l1 -.8l1 -7.5l1 -9.2l1 2.6l1 6.2l1 -13.3l1 -.1l1 11.6l1 -.6l1 -6.4l1 .4l1 -10.9l1 23l1 -8l1 -8.1l1 3l1 2.2l1 18.5l1 -6.9l1 -13.9l1 22.7l1 -3l1 -15.8l1 -7.5l1 24.1l1 -9.7l1 4l1 -2.3l1 12.3l1 1.1l1 -5.2l1 -7.5l1 2.2l1 1.9l1 -16l1 18.9l1 -11.8l1 2.9l1 -2.2l1 4h1l1 7.1l1 -18.2l1 -3.8l1 7.6l1 -4.9l1 11.2l1 -11l1 7.3l1 6.1l1 .8l1 -5.9l1 8l1 -1.6l1 -21.6l1 13.9l1 -1.5l1 -3.4l1 -2.3l1 4.7l1 2.4l1 -1l1 7.4l1 -2.7l1 -11l1 -.9l1 11.6l1 -10.3l1 6.7l1 3l1 4.9l1 -2.7l1 7.3l1 -12.9l1 8l1 -9.6l1 5.3l1 -1.4l1 -8.6l1 -11.3l1 21.3l1 -6l1 -3.3l1 -7.1l1 2.3l1 6.3l1 -1.4l1 10.3l1 -5.1l1 -4.8l1 10.8l1 -8.8l1 5.2l1 -15.3l1 9.1l1 5.6l1 -8.8l1 4.4l1 4.8l1 -2.8l1 13l1 -13.3l1 1.2l1 .4l1 -13.1l1 2.3l1 13.4l1 -7l1 11.4l1 -10.1l1 .2l1 9.9l1 -3.4l1 11.2l1 -17.1l1 11.5l1 2l1 -1.2l1 3.4l1 -1.9l1 -8.1l1 -5.2l1 10l1 -7.1l1 6.1l1 2.8l1 -8l1 -7.4l1 4.9l1 7.8l1 -6.6l1 10.7l1 -7.2l1 1.3l1 -4.8l1 3.8l1 8.1l1 -10.6l1 -.7l1 -3.9l1 10.5l1 -16.1l1 6.4l1 11.6l1 4.3l1 -10.9l1 8.7l1 -20.6l1 18.9l1 -3.8l1 -11.5l1 -4.8l1 7.8l1 4.3l1 -.1l1 -2.4l1 4.5l1 -.3l1 -13.9l1 7.8l1 -.1l1 11.3l1 -10.4l1 10.4l1 -6.7l1 14.7l1 -16.6l1 -.1l1 -1.3l1 1.5l1 14.6l1 -19l1 -2.2l1 5.3l1 6.7l1 -11.1l1 12.7l1 -.2l1 -6.7l1 -.7l1 -3.5l1 4.2l1 -2.6l1 15.6l1 4.1l1 -12.2l1 2.4l1 -12.7l1 9.3l1 5.4l1 -1.5l1 -2.3l1 3.9l1 -6.1l1 -3.9l1 13.8l1 -24.5l1 5.4l1 2.8l1 -.3l1 -1l1 2.8l1 -4.4l1 3.9l1 4.4l1 -3.4l1 1.8l1 -6.3l1 -.5l1 6.2l1 8.2l1 -4.5l1 4.2l1 -.9l1 1.1l1 -12.9l1 14.9l1 -3l1 9.1l1 -10.6l1 -2.2l1 -3.4l1 2l1 -12.5l1 9.8l1 1.2l1 6.6l1 -12.3l1 4.5l1 10.9l1 -17.1l1 9.1l1 -9.7l1 3l1 4l1 3l1 -9.8l1 -4.1l1 16.7l1 -10.5l1 2.7l1 -.7l1 -2.1l1 -7.5l1 1.3l1 -8.6l1 13.9l1 -2.5l1 5l1 14.6l1 -7.3l1 -4.1l1 -9.8l1 14.4l1 5.5l1 -15.8l1 9.2l1 -6l1 2.8l1 -1.7l1 -9.4l1 6.2l1 -9.2l1 19.3l1 -3.1l1 -6.7l1 2.7l1 .3l1 3.2l1 2.2l1 -1.3l1 1.7l1 -7.7l1 2.1l1 1.8l1 4.4l1 -5.5l1 14.2l1 -15.8l1 -2.3l1 4.7l1 3.8l1 5.8l1 -5.6l1 -10.2l1 3.3l1 8.7l1 -5.3l1 3.8l1 -5.9l1 11.9l1 -.6l1 -1.9l1 -6.3l1 -12.1l1 1.8l1 11.3l1 2.2l1 -20.8l1 13l1 11.1l1 -1.2l1 -9.9l1 7.7l1 -4.5l1 -2.2l1 8.4l1 -.5l1 -11.9l1 -3.1l1 -2.4l1 -.4l1 19.4l1 4.5l1 -10.5l1 6.9l1 -10.6l1 5.5l1 7.8l1 -3.4l1 -2.3l1 -11.6l1 .5l1 5.8l1 -2.4l1 2l1 -4.6l1 2.9l1 2.8l1 4.8l1 -.9l1 -2l1 3.6l1 9.1l1 -7.4l1 -5.9l1 -1.4l1 7.5l1 1l1 4.2l1 -10.4l1 12.1l1 -11.4l1 .6l1 -3l1 6.4l1 2.2l1 -8.5l1 -4.2l1 -7.7l1 11.4l1 -3l1 1.9l1 -1.6l1 -.1l1 4.6l1 7.1l1 4.2l1 -6.4l1 2l1 -4l1 -.1l1 -9l1 14.6l1 -2.5l1 5.2l1 -14.5l1 4.6l1 -7.3l1 7.9l1 -2.2l1 6l1 -4.9l1 6.1l1 -7l1 7.7l1 -5.8l1 -.6l1 4.2l1 3.1l1 -10.5l1 .8l1 12.6l1 -1.2l1 -13.8l1 1.1l1 4.9l1 5.9l1 -2l1 4.5l1 .7l1 8l1 -25.3l1 10.2l1 8.1l1 -15.3l1 -.9l1 10.7l1 5.8l1 .5l1 -21.3l1 3l1 6.7l1 -3.6l1 5.4l1 -1.1l1 11.7l1 -11.5l1 2.6l1 -.2l1 7l1 -15.7l1 9l1 -9.2l1 -5.6l1 16.8l1 -4.9l1 5.9l1 -7.3l1 3.6l1 -2.4l1 4.1l1 -5.6l1 15.3l1 -17.2l1 17.8l1 -13.1l1 6.8l1 -5.6l1 1.3l1 6.2l1 -10.2l1 -8.5l1 7.1l1 2l1 -21.5l1 22.8l1 .7l1 -19.4l1 11.1l1 6.5l1 -13.9l1 4.3l1 -.2l1 5.6l1 3.4l1 -7.8l1 1l1 6.4l1 -2.1l1 -3.7l1 10.8l1 -17.6l1 12.3l1 -2.4l1 .7l1 5.7l1 -.8l1 15.2l1 -12.1l1 -3l1 7.9l1 -5.3l1 -20.3l1 13.7l1 4.9l1 -8.1l1 7.7l1 -3.7l1 6.8l1 -13.4l1 -2.2l1 9.2l1 4.7l1 7.1l1 -11.5l1 -3.5l1 11.3l1 -6.2l1 12.3l1 -13l1 -12.7l1 7.9l1 -1.2l1 -3.2l1 3.9l1 .3l1 2.7l1 -1.6l1 7.1l1 1l1 -.4l1 1.5l1 -13.1l1 2.3l1 5.9l1 7.7l1 -12.5l1 6.4l1 3.8l1 11.3l1 -12.4l1 -5.8l1 11l1 -6.5l1 -4.2l1 8.9l1 -14.9l1 -13.6l1 20.1l1 6.3l1 -13.3h1l1 7l1 1.3l1 2.5l1 -2.7l1 5.9l1 2.1l1 -2.9l1 -8.7l1 15l1 -19.6l1 8l1 6.1l1 -11.9l1 12.2l1 3.7l1 -2.5l1 -7.8l1 4.2l1 -9.8l1 7.1l1 1.4l1 -1.6l1 1.3l1 -2l1 -12.3l1 15.9l1 -1.5l1 11.1l1 -10.2l1 -5l1 5.5l1 -1.2l1 -3.6l1 -1.4l1 -6.5l1 12.1l1 11.2l1 -23.8l1 6.8l1 12.3l1 -3.1l1 2.5l1 -14.8l1 9.8l1 8.3l1 1l1 -2l1 -8.5l1 9.2l1 -12.8l1 .9l1 -2.4l1 17.4l1 -13.6l1 2.8l1 -16.2l1 22.6l1 -4.7l1 -15l1 .2l1 22.6l1 -18.4l1 19.1l1 -16.3l1 -13l1 23.5l1 -4.4l1 1l1 -8.6l1 2l1 8.2l1 -12.1l1 -7.8l1 20.2l1 -10.9l1 12.6l1 -13.1l1 -.3l1 .8l1 -14.2l1 24.8l1 -11.9l1 3.9l1 12.3l1 -9l1 5.7l1 -3.7l1 3.2l1 -3.2l1 6.2l1 -9.7l1 4.3l1 -23.5l1 27.4l1 -23.8l1 16.9l1 2l1 1l1 -1.1l1 10.7l1 6.7l1 -18.1l1 -8.6l1 5.7l1 1.4l1 3.8l1 -.5l1 6.9l1 -11.2l1 2.3l1 .8l1 -7.2l1 3.5l1 17.8l1 -17.5l1 -6.8l1 -9.1l1 22.1l1 -9.7l1 -2.4l1 20.4l1 -6.3l1 -22l1 10l1 10.4l1 .3l1 -11.8l1 22.2l1 2.3l1 -19.3l1 -3.8l1 2.7l1 -11l1 27.1l1 -7.5l1 -6.7l1 2.6l1 4.2l1 -12.3l1 -2.8l1 12l1 9.8l1 -7l1 .1l1 -6.2l1 11l1 -18.3l1 11.8l1 -3l1 3.9l1 -4.5l1 12.5l1 -5.3l1 -3.5l1 7.5l1 -4.6l1 -4.3l1 -1.6l1 8.4l1 -13.1l1 4.3l1 -.8l1 3.8l1 -3.8l1 16.3l1 -27.4l1 16.3l1 -4.3l1 8.3l1 -18.8l1 20.2l1 -18.3l1 14l1 -2.3l1 -4.7l1 -6.8l1 -2l1 5.2l1 -7l1 -9.1l1 .6l1 18.2l1 .6l1 -1.4l1 -2.4l1 3.3l1 1.8l1 -.9l1 -6.5l1 1l1 -2.3l1 9.8l1 -7.4l1 6.3l1 10.7l1 -11.7l1 9.2l1 3.6l1 -24.5l1 1.8l1 12.4l1 -9.3l1 7.8l1 .3l1 -9.2l1 9l1 6.5l1 -5.1l1 -12.1l1 6.1l1 -1.7l1 15.7l1 -11.6l1 -3.1l1 5.2l1 2.8l1 -7.1l1 2.4l1 -1.6l1 4.6l1 1.3l1 -4.9l1 -5.1l1 6.2l1 -9.1l1 13.7l1 -5.1l1 -.8l1 -18l1 32.4l1 -5.5l1 -.6l1 -7l1 5l1 12.3l1 -19.7l1 10.6l1 -.7l1 -3.3l1 1.1l1 -10l1 10.4l1 -14.8l1 20.7l1 -8.4l1 -12.5l1 -9.2l1 15.3l1 3.1l1 -10l1 19.2l1 -9.6l1 -5.2l1 -6.8l1 8.5l1 -.9l1 5.8l1 3l1 -6.8l1 3.6l1 7.4l1 -5.1l1 -5.7l1 6.3l1 -8.2l1 6.2l1 -3.9l1 -9.5l1 10.5l1 -4.8l1 4l1 -14.3l1 17.9l1 1.4l1 -9.1l1 3.1l1 2.1l1 .4l1 6.6l1 -10.5l1 -3l1 6.3l1 14.6l1 -16.7l1 -5.3l1 -.6l1 6.4l1 6l1 -26.3l1 18.1l1 .1l1 1.8l1 -2.1l1 6.7l1 -2.1l1 -8.3l1 21.1l1 -24.1l1 1.7l1 17.9l1 -4.7l1 -1.9l1 3.8l1 3.6l1 -7.9l1 -2l1 -3.7l1 .5l1 -.3l1 13.4l1 -5.7l1 2.6l1 -6.5l1 12.5l1 -17.3l1 14.8l1 1.5l1 -9.3l1 -3.7l1 10.1l1 -9.4l1 -2l1 5.4l1 -8.2l1 6.5l1 14.7l1 -17.8l1 8.7l1 -14.4l1 7.4l1 -2.7l1 1l1 6.9l1 10.1l1 -15.8l1 9.8l1 -7.3l1 2l1 -8.9l1 -1.5l1 4.2l1 -2.8l1 6.5l1 -6.3l1 7.9l1 1.3l1 11.4l1 -.4l1 -7.9l1 -6.2l1 8.5l1 1.9l1 -7.3l1 -5.3l1 -7.6l1 11.3l1 12.9l1 -15.4l1 3.9l1 -.3l1 .8l1 2l1 -19.2l1 13.6l1 4.7l1 -1.9l1 10.7l1 -9.4l1 10.5l1 7.1l1 -13.4l1 2.3l1 -2.3l1 7.1l1 -20.8l1 4.5l1 8.1l1 8.3l1 -1.5l1 -9.5l1 17.3l1 -10.6l1 -5.9l1 7l1 4.1l1 -10.9l1 -11l1 6.3l1 4.5l1 5.9l1 -13.7l1 8.7l1 -10.2l1 8.8l1 -9.7l1 6.4l1 -7.1l1 4l1 -4.3l1 -3.1l1 21.5l1 -1.4l1 -6l1 -6.5l1 12.7l1 -11.6l1 6.2l1 6.4l1 -5.1l1 9.9l1 -10.7l1 .1l1 1.9l1 -9.2l1 .4l1 12.8l1 -17.5l1 20l1 -6l1 6.2l1 -3.2l1 -1.4l1 7.9l1 -12.7l1 -.2l1 8.6l1 -12.9l1 12l1 -3.9l1 -9l1 -6.2l1 -5.9l1 26.6l1 -24.4l1 1.3l1 14.2l1 -2.5l1 -1l1 .6l1 -1.9l1 -1.9l1 2.4l1 10.1l1 3.5l1 .5l1 -9.3l1 -16.6l1 18.1l1 -5.7l1 -16.1l1 25.9l1 -7.9l1 -1.4l1 2.3l1 -.1l1 1l1 -.9l1 -1.1l1 3.1l1 -2.5l1 12.3l1 -15.2l1 -4.4l1 .3l1 8.3l1 -.3l1 2.1l1 -2.4l1 .2l1 6.1l1 3.7l1 -7.9l1 -3.8l1 -7.8l1 -.2l1 8.4l1 -2l1 1.1l1 -6.9l1 7.1l1 -12.5l1 5.4l1 2.7l1 9.4l1 -9l1 -3.2l1 7.6l1 -3.4l1 6.7l1 -4.4l1 -.5l1 -2.4l1 6.8l1 -8.7l1 -4.3l1 18.5l1 -8.2l1 5l1 5.2l1 3.5l1 -24.4l1 10.6l1 16l1 -20.7l1 14.8l1 -6.7l1 -4.9l1 3.9l1 -12.5l1 13.2l1 4.1l1 -19.3l1 4.6l1 12.7l1 -5.9l1 -4.6l1 12.8l1 -21.2l1 10.5l1 3l1 -2.7l1 7.6l1 -17.8l1 11.5l1 -6.5l1 13.3l1 -1.7l1 -13.3l1 -3.3l1 6.4l1 -6.8l1 1.1l1 6.4l1 -6.5l1 16.1l1 -11.9l1 -3.6l1 -3.5l1 5l1 12.3l1 -2.7l1 7.7l1 .9l1 -3.4l1 -7.1l1 5.2l1 2.3l1 -12.1l1 13.1l1 -11.2l1 4.5l1 -5.3l1 5.7l1 10.6l1 -25.3l1 8.1l1 14.9l1 -20.2l1 5.9l1 1.8l1 3.8l1 -12.9l1 13.8l1 2l1 11.5l1 -17.2l1 -4l1 4.4l1 -17.5l1 18.1l1 8.1l1 -11.7l1 -21.4l1 19.1l1 2.5l1 -9.7l1 19.9l1 -13.5l1 .8l1 15.6l1 -10.7l1 -2.5l1 15.1l1 -9.9l1 5.7l1 -10.3l1 -8.6l1 13.2l1 8l1 -14.1l1 5.1l1 2.2l1 -2.9l1 -.5l1 6.2l1 -2.5l1 -3.8l1 12.3l1 -.9l1 -2.3l1 2.9l1 -21l1 18.8l1 -.9l1 -13.7l1 28.9l1 -12l1 -5.8l1 .2l1 4.3l1 -1.8l1 -10.9l1 9l1 6.4l1 1.4l1 1.8l1 -13.9l1 2.4l1 6.2l1 -7.8l1 5l1 -8.1l1 9.6l1 -3.9l1 3.6l1 -4l1 -6.1l1 -3.6l1 8.1l1 -5.4l1 -7l1 6l1 9.1l1 3.1l1 -3.1l1 4.5l1 -12l1 1.6l1 -5.7l1 1.1l1 16.8l1 -8.2l1 1.7l1 11.2l1 -1.7l1 -19.3l1 13.3l1 -11.9l1 12.6l1 -20.1l1 6.7l1 .3l1 20.6l1 -26.5l1 20.4l1 -.1l1 -6.7l1 5l1 9.6l1 -13.8l1 -3.9l.5 11.2" stroke="#a55aa5" fill="none" stroke-width="7.0" stroke-linejoin="round" stroke-linecap="round"/>
<path d="M235.5 253.9v38.6M217.7 274.2h35.6M223.0 259.2l25 28M248.0 259.2l-25 28" fill="none" stroke="#a55aa5" stroke-width="7.0"/>
<path d="M508.6 1368.8v38.6M490.8 1389.1h35.6M496.1 1374.1l25 28M521.1 1374.1l-25 28" fill="none" stroke="#a55aa5" stroke-width="7.0"/>
<path d="M781.7 1393.2v38.6M763.9 1413.5h35.6M769.2 1398.5l25 28M794.2 1398.5l-25 28" fill="none" stroke="#a55aa5" stroke-width="7.0"/>
<path d="M1054.8 1424.3v38.6M1037.0 1444.6h35.6M1042.3 1429.6l25 28M1067.3 1429.6l-25 28" fill="none" stroke="#a55aa5" stroke-width="7.0"/>
<path d="M1327.9 1424.2v38.6M1310.1 1444.5h35.6M1315.4 1429.5l25 28M1340.4 1429.5l-25 28" fill="none" stroke="#a55aa5" stroke-width="7.0"/>
<path d="M1601.0 1415.4v38.6M1583.2 1435.7h35.6M1588.5 1420.7l25 28M1613.5 1420.7l-25 28" fill="none" stroke="#a55aa5" stroke-width="7.0"/>
<path d="M1874.1 1431.2v38.6M1856.3 1451.5h35.6M1861.6 1436.5l25 28M1886.6 1436.5l-25 28" fill="none" stroke="#a55aa5" stroke-width="7.0"/>
<path d="M2147.2 1430.5v38.6M2129.4 1450.8h35.6M2134.7 1435.8l25 28M2159.7 1435.8l-25 28" fill="none" stroke="#a55aa5" stroke-width="7.0"/>
<path clip-path="url(#cp)" d="M235.5 274.0l.5 -.3l.5 -.3l.5 -.3l.5 -.2l.5 -.2l.5 -.2l.5 -.1l.5 -.1l.5 -.1l.5 -.1h.5h.5l.5 -.1h.5h.5h.5h.5h.5l.5 .1l.5 .2l.5 .2l.5 .3l.5 .4l.5 .4l.5 .4l.5 .8l.5 1.3l.5 2l.5 2.7l.5 3.3l.5 3.9l.5 7.4l.5 7.3l.5 7.2l.5 7l.5 6.7l.5 6.4l.5 6.1l.5 5.9l.5 5.9l.5 5.7l.5 5.8l.5 5.8l.5 6l.5 6.1l.5 6.5l.5 6.9l.5 7.7l.5 8.9l.5 11l.5 14.2l.5 20l.5 25.7l.5 21.7l.5 16l.5 13.3l.5 12.2l.5 11.5l.5 11.4l.5 11.4l.5 11.7l.5 12.6l.5 14.1l.5 15.7l.5 17.2l.5 18.2l.5 18l.5 16.8l.5 15.3l.5 13.9l.5 12.8l.5 11.9l.5 11.1l.5 10.4l.5 9.9l.5 9.3l.5 8.9l.5 8.5l.5 8.2l.5 7.9l.5 7.8l.5 7.6l.5 7.5l.5 7.5l.5 7.4l.5 7.4l.5 7.3l.5 7.4l.5 7.5l.5 7.5l.5 7.6l.5 7.6l.5 7.5l.5 7.4l.5 7.1l.5 6.9l.5 6.5l.5 6.3l.5 6l.5 5.7l.5 5.5l.5 5.2l.5 4.9l.5 4.8l.5 4.5l.5 4.3l.5 4.2l.5 4l.5 3.9l.5 3.9l.5 3.7l.5 3.7l.5 3.6l.5 3.6l.5 3.6l.5 3.6l.5 3.5l.5 3.6l.5 3.5l.5 3.6l.5 3.6l.5 3.6l.5 3.7l.5 3.8l.5 3.8l.5 3.9l.5 4l.5 4.2l.5 4.3l.5 4.5l.5 4.9l.5 5.1l.5 5.6l.5 5.6l.5 5.5l.5 5.1l.5 4.7l.5 4.2l.5 3.7l.5 3.4l.5 3.1l.5 2.8l.5 2.6l.5 2.4l.5 2.2l.5 2.1l.5 2l.5 2l.5 1.8l.5 1.8l.5 1.8l.5 1.7l.5 1.6l.5 1.7l.5 1.6l.5 1.5l.5 1.6l.5 1.5l.5 1.5l.5 1.5l.5 1.5l.5 1.5l.5 1.5l.5 1.4l1 2.8l1 2.8l1 3.2l1 2.5l1 3.1l1 3l1 2.7l1 3l1 3.6l1 1.6l1 2.1l1 2l1 3.5l1 2.1l1 2.6l1 1.1l1 1.7l1 1.3l1 1.9l1 2.6l1 1l1 2.4l1 4.6l1 -1l1 -2.6l1 7.4l1 -1.8l1 -2l1 4.8l1 -1.4l1 -1.1l1 .3l1 -.8l1 2.9l1 3.1l1 -3.8l1 2.8l1 5.5l1 -9.2l1 6.1l1 -.8l1 -1.7l1 1.3l1 5.1l1 3.2l1 -2.3l1 4l1 4.5l1 -.5l1 3.7l1 -1.2l1 .4l1 6.6l1 -6.1l1 -2.6l1 3l1 -8.5l1 3.5l1 6.8l1 -.1l1 6.4l1 -7.6l1 -7.5l1 21.4l1 -4.3l1 -12.9l1 15.4l1 -8.2l1 -11.4l1 9.8l1 .5l1 15.2l1 -14.5l1 5l1 1.2l1 .5l1 -2.8l1 8.8l1 6.9l1 -2.5l1 -10.3l1 -.7l1 10.3l1 -5l1 1.3l1 -7.3l1 27l1 -7.7l1 -14.4l1 13.7l1 2.7l1 -27.9l1 12.4l1 .6l1 7.5l1 -5.7l1 -.2l1 2.3l1 15.6l1 3.7l1 -18.8l1 -1.8l1 25.2l1 -23.7l1 3.6l1 4.9l1 3.5l1 4.2l1 -4.4l1 -8.8l1 11.4l1 -.7l1 13.2l1 -13.7l1 -10l1 1.6l1 17.9l1 -15.7l1 -12.3l1 11.3l1 4.5l1 9.3l1 -16l1 13.3l1 1.8l1 -10.1l1 5l1 16l1 .8l1 -5.3l1 -2.8l1 7l1 -8.9l1 .8l1 -5.5l1 6.5l1 -.8l1 17.7l1 -18.6l1 11.3l1 1l1 -10.2l1 11.6l1 -23.4l1 18.8l1 7.4l1 -22.4l1 9.3l1 17.1l1 -9.5l1 -5.9l1 6.2l1 -.2l1 10.8l1 -.9l1 -4.8l1 -2.8l1 4.1l1 9.4l1 -8.6l1 1.1l1 -6.6l1 -8.7l1 4.8l1 10.9l1 -3.5l1 -7.1l1 -5.5l1 12.6l1 -3.9l1 -.5l1 -.1l1 4.7l1 .5l1 5.6l1 .6l1 4l1 -2.8l1 -7.5l1 3.1l1 4.8l1 -5.4l1 7.3l1 5.5l1 -13.4l1 -5.7l1 23.8l1 -7.3l1 6.6l1 -14.1l1 23.8l1 -7l1 -6.4l1 -1.9l1 3.2l1 -2.3l1 -.4l1 -5.4l1 19.5l1 -7.8l1 3.1l1 2.4l1 -15.8l1 23l1 -5l1 1l1 2.8l1 -8.4l1 12.5l1 -12.8l1 -2.8l1 -.3l1 7.7l1 5.4l1 -8.2l1 -4.6l1 21.8l1 -13.9l1 18.2l1 -8.8l1 -5.1l1 -.1l1 7.6l1 3.1l1 -7.8l1 9.6l1 10l1 -15.8l1 -5.9l1 1.5l1 -2.3l1 5.3l1 -1.4l1 -5.8l1 12.4l1 -22.7l1 6.2l1 24.4l1 -7.2l1 -3l1 .8l1 11.4l1 -7.7l1 -2.1l1 -8.9l1 8.8l1 -5.7l1 -1.2l1 -1.9l1 3l1 -4l1 7.5l1 -17.6l1 7.8l1 14.7l1 -14l1 8.7l1 -.2l1 1.7l1 -3.9l1 -15.6l1 8.6l1 -.8l1 -8.9l1 7.8l1 -6.4l1 -3.8l1 13.3l1 -2.5l1 -5.3l1 -2.2l1 3.3l1 1.5l1 .6l1 3.6l1 -1.6l1 7.5l1 2.3l1 -.2l1 -7l1 .5l1 7.7l1 -4.9l1 1.1l1 -16.8h1l1 19.6l1 -.8l1 6.8l1 -6.6l1 -5.3l1 -2.8l1 -11.6l1 17.3l1 -10.6l1 9.2l1 -1.2l1 1.5l1 5.4l1 -9.8l1 1.3l1 -2.7l1 4.6l1 16.5l1 -14.2l1 12.2l1 -2.6l1 -1.3l1 -.3l1 -14.6l1 9.5l1 8.4l1 -17.5l1 4.8l1 -4.7l1 7.9l1 -10.1l1 20.7l1 -14.3l1 -8.1l1 25.6l1 -5.6l1 -3l1 .4l1 -6.4l1 1.3l1 7.4l1 1.6l1 -.1l1 -5.8l1 -5.8l1 1.2l1 9l1 2l1 -13.3l1 -.2l1 14.4l1 -2.1l1 1.6l1 -13.8l1 7.5l1 -1.5l1 4.3l1 -15.7l1 20.8l1 -8.5l1 .3l1 -12.6l1 8.5l1 10.3l1 -21.6l1 14.5l1 3.7l1 -9.7l1 12.2l1 -7.9l1 12.1l1 -5.4l1 -2.7l1 12.7l1 -9.6l1 2.9l1 -19.3l1 3.8l1 11.1l1 .6l1 -7.1l1 6.2l1 -14.2l1 9.1l1 -10.6l1 10.8l1 -6.2l1 -1l1 5.4l1 13.5l1 -21l1 3.2l1 12.6l1 -11.2l1 16.5l1 -11.5l1 -.6l1 2.9l1 11.7l1 -6.6l1 .5l1 -.8l1 -12.9l1 5.1l1 17.1l1 -6.2l1 -4l1 -.8l1 -10.5l1 5.2l1 -10.2l1 9.2l1 -8.5l1 3.8l1 5l1 -5.8l1 7.2l1 -1.4l1 -.4l1 7.8l1 -20.1h1l1 17.5l1 3.1l1 8.3l1 -9.4l1 .4l1 -13.1l1 11.9l1 -1l1 -13.6l1 .6l1 5.4l1 2.7l1 -19.5l1 17.8l1 1.3l1 -2.8l1 3.6l1 1.8l1 -10.4l1 11.8l1 -3.5l1 -3.4l1 10.6l1 11.2l1 -20.9l1 -.8l1 .2l1 27l1 -17.1l1 1.1l1 -5.8l1 -1.3l1 -8.2l1 16.6l1 .7l1 -16.8l1 6.9l1 2.1l1 5.3l1 2.3l1 7.1l1 2.4l1 -1.8l1 2.3l1 -19.1l1 4l1 12l1 -7l1 -2.3l1 -14.7l1 1.6l1 20.3l1 -2.2l1 -4.4l1 -1l1 -10.4l1 15l1 4.2l1 -32l1 23.5l1 -2.3l1 -6.9l1 17l1 3.2l1 -17.9l1 6.4l1 -1.9l1 -5.2l1 -12.9l1 14.9l1 8.2l1 -14.3l1 5.9l1 -9.7l1 28l1 -5l1 -3l1 -2.4l1 -3.4l1 3.1l1 -3.1l1 -1l1 .4l1 .4l1 10.2l1 -22.6l1 12.9l1 -6.5l1 -3.9l1 -8.8l1 21.6l1 -12l1 1.9l1 9.7l1 -10.7l1 9.4l1 .1l1 7.2l1 1.8l1 -14.2l1 13l1 -7.9l1 1.4l1 -2.6l1 7.4l1 -14.6l1 11.4l1 7.4l1 -10.5l1 17.6l1 -20.8l1 6.8l1 -5.4l1 -1l1 -3.2l1 5.3l1 5l1 -4.4l1 13.7l1 5.3l1 -22.8l1 17.4l1 -5.3l1 -.1l1 15l1 -8.9l1 -7.2l1 -1.8l1 -18.2l1 21.6l1 -11.8l1 6.8l1 -.8l1 6.2l1 7.7l1 -8.3l1 1.8l1 -11.5l1 5.3l1 2.7l1 -16.2l1 26.5l1 -20.2l1 -3.8l1 22.5l1 4.6l1 -19.9l1 2.1l1 23.1l1 -15.5l1 -15.5l1 9.9l1 18.8l1 -11.1l1 -.3l1 2.6l1 -4.7l1 -8l1 -9.5l1 15.6l1 -11.1l1 8.6l1 14.3l1 -8.9l1 -3.7l1 -.3l1 4.5l1 .8l1 -17.3l1 10.6l1 10.8l1 -7.9l1 -12.1l1 .4l1 -10.1l1 10.4l1 19.4l1 -10.9l1 -4.3l1 3.3l1 4.2h1l1 -2.5l1 -4.2l1 -17.1l1 31.3l1 -17.4l1 -1.2l1 11.9l1 -20.3l1 6.7l1 2.5l1 5.6l1 -1.7l1 -3l1 10.1l1 -10.8l1 -4.5l1 -3.2l1 19.2l1 -20.4l1 14.6l1 .3l1 .1l1 -7.5l1 -2.3l1 6l1 -3.4l1 -3.3l1 20.8l1 -14.9l1 21.1l1 -9.2l1 -7l1 6.7l1 6.1l1 -19.4l1 3.6l1 -.8l1 9l1 1.3l1 -3.5l1 -6.6l1 .9l1 12.6l1 -.2l1 -6.8l1 -10.3l1 15l1 -2.5l1 -.3l1 11l1 -6.7l1 -12.9l1 .9l1 18.7l1 -7.7l1 6.2l1 -6.7l1 -5.9l1 9.7l1 9.7l1 -9.1l1 -10.7l1 6.6l1 -.8l1 5.6l1 6.8l1 7.2l1 -13.3l1 -5.4l1 3l1 -1.2l1 -4.1l1 2.6l1 -.8l1 -9.3l1 12.6l1 -7l1 -5l1 10.6l1 -8l1 15.7l1 -10.5l1 -4l1 -6.8l1 2.4l1 9.6l1 -11.5l1 10.5l1 -22.2l1 16l1 3.1l1 -5.1l1 -3.7l1 6.8l1 -14.2l1 -.6l1 9l1 9.5l1 -4.2l1 -2.9l1 5.5l1 2.8l1 -11l1 -6.9l1 11.4l1 -2.7l1 7.1l1 -5.1l1 1.6l1 8.6l1 -3.5l1 -1.6l1 12.4l1 -15.9l1 .7l1 12.3l1 -18l1 -4.1l1 21.8l1 -7.4l1 1.9l1 .3l1 2l1 -10.3l1 3.2l1 -7.3l1 10l1 1.4l1 -4.5l1 8.9l1 11.8l1 -24.8l1 15l1 1.1l1 1l1 -13.9l1 15.2l1 -3.8l1 -5.5l1 -1.1l1 5.1l1 5.9l1 .2l1 9.9l1 -18.8l1 6.8l1 -8.9l1 7.8l1 -6.3l1 -6.7l1 -6.3l1 3.7l1 7.3l1 8.9l1 -5.6l1 -15.2l1 5.1l1 3.9l1 -1l1 2l1 6l1 -3.5l1 -6.2l1 -8.8l1 12.1l1 -10.1l1 11.1l1 3.2l1 -12.9l1 8.4l1 -2.2l1 16l1 -11.7l1 -18.4l1 16.9l1 -.6l1 -4.7l1 -1.4l1 7.3l1 .3l1 -1.8l1 -10.9l1 5.6l1 -9.6l1 .8l1 7.5l1 -3l1 5.7l1 22.1l1 -13.1l1 -9.4l1 -8.6l1 10.9l1 -3.6l1 -4.6l1 22.8l1 -8.2l1 7.2l1 14.7l1 -16.7l1 -1.8l1 1.2l1 -4.9l1 -4.4l1 4.7l1 10.2l1 -10.6l1 -8.2l1 .9l1 1.7l1 7.7l1 3.4l1 -.2l1 5.2l1 -10.5l1 7.7l1 -3.9l1 2.6l1 -19.5l1 22.7l1 -21.4l1 2.9l1 14.2l1 -8.5l1 16.4l1 -11.9l1 -8.9l1 8.4l1 -5.1l1 13.5l1 -.7l1 -8l1 -9.8l1 2.9l1 6.6l1 -14.2l1 -.1l1 12.4l1 -.6l1 -6.9l1 .3l1 -11.7l1 24.5l1 -8.6l1 -8.7l1 3.1l1 2.4l1 19.7l1 -7.4l1 -14.9l1 24.3l1 -3.3l1 -17l1 -8.1l1 25.7l1 -10.5l1 4.3l1 -2.6l1 13.3l1 1.2l1 -5.6l1 -7.9l1 2.4l1 2l1 -17.1l1 20.4l1 -12.7l1 3.2l1 -2.3l1 4.4h1l1 7.8l1 -19.6l1 -4l1 8.1l1 -5.3l1 12l1 -11.8l1 7.7l1 6.5l1 .8l1 -6.3l1 8.6l1 -1.6l1 -23.1l1 14.9l1 -1.6l1 -3.7l1 -2.5l1 5.1l1 2.5l1 -1l1 8l1 -2.9l1 -11.8l1 -1.1l1 12.4l1 -11l1 7.1l1 3.2l1 5.1l1 -2.9l1 7.7l1 -13.8l1 8.5l1 -10.2l1 5.7l1 -1.4l1 -9.2l1 -12l1 22.9l1 -6.3l1 -3.3l1 -7.6l1 2.5l1 6.6l1 -1.5l1 10.8l1 -5.6l1 -5.3l1 11.5l1 -9.4l1 5.6l1 -16.3l1 9.8l1 6.1l1 -9.5l1 4.8l1 5.1l1 -3.1l1 13.8l1 -14.3l1 1.3l1 .3l1 -14l1 2.5l1 14.5l1 -7.5l1 12.3l1 -10.9l1 .2l1 10.5l1 -3.8l1 11.8l1 -18.3l1 12.2l1 2.1l1 -1.3l1 3.7l1 -2l1 -8.6l1 -5.5l1 10.8l1 -7.5l1 6.5l1 2.9l1 -8.4l1 -8.1l1 5.3l1 8.3l1 -7.1l1 11.4l1 -7.8l1 1.4l1 -5.2l1 4.1l1 8.6l1 -11.3l1 -.7l1 -4.1l1 11.3l1 -17.3l1 6.8l1 12.4l1 4.5l1 -11.7l1 9.3l1 -22.1l1 20.3l1 -4.1l1 -12.2l1 -5.1l1 8.4l1 4.7h1l1 -2.6l1 4.8l1 -.3l1 -14.9l1 8.3l1 -.2l1 12.1l1 -11.2l1 11.1l1 -7.1l1 15.7l1 -17.7l1 -.1l1 -1.3l1 1.6l1 15.6l1 -20.4l1 -2.3l1 5.6l1 7.1l1 -12l1 13.6l1 -.2l1 -7.1l1 -.7l1 -3.9l1 4.5l1 -2.9l1 16.6l1 4.3l1 -13.2l1 2.6l1 -13.6l1 10l1 5.7l1 -1.5l1 -2.4l1 4.3l1 -6.5l1 -4.1l1 14.8l1 -26.3l1 5.8l1 3l1 -.3l1 -1.1l1 3.1l1 -4.6l1 4.2l1 4.8l1 -3.8l1 1.8l1 -6.8l1 -.6l1 6.6l1 8.9l1 -4.9l1 4.7l1 -1l1 1.1l1 -13.8l1 15.9l1 -3.3l1 9.8l1 -11.4l1 -2.3l1 -3.6l1 2.2l1 -13.5l1 10.5l1 1.3l1 7.1l1 -13.1l1 4.9l1 11.7l1 -18.2l1 9.8l1 -10.5l1 3.3l1 4.2l1 3.2l1 -10.4l1 -4.4l1 17.9l1 -11.2l1 3l1 -.5l1 -2.3l1 -8l1 1.4l1 -9.3l1 14.7l1 -2.8l1 5.3l1 15.5l1 -7.9l1 -4.4l1 -10.5l1 15.4l1 5.9l1 -17l1 9.8l1 -6.4l1 3l1 -1.8l1 -10.1l1 6.7l1 -9.7l1 20.8l1 -3.2l1 -7.3l1 2.8l1 .3l1 3.2l1 2.1l1 -1.4l1 1.7l1 -8.3l1 2.3l1 2l1 4.8l1 -5.8l1 15.3l1 -16.8l1 -2.4l1 5l1 4.1l1 6.2l1 -6l1 -11l1 3.6l1 9.3l1 -5.8l1 4.1l1 -6.3l1 12.7l1 -.7l1 -2l1 -6.9l1 -12.9l1 1.9l1 12.2l1 2.3l1 -22.3l1 13.9l1 12l1 -1.4l1 -10.6l1 8.3l1 -4.8l1 -2.4l1 9.2l1 -.6l1 -12.7l1 -3.3l1 -2.6l1 -.4l1 20.7l1 4.7l1 -11.2l1 7.3l1 -11.5l1 5.8l1 8.3l1 -3.7l1 -2.5l1 -12.3l1 .6l1 6.3l1 -2.5l1 2.2l1 -4.9l1 3.1l1 2.9l1 5.1l1 -1.2l1 -2.3l1 3.7l1 9.7l1 -7.9l1 -6.2l1 -1.5l1 8.2l1 1.1l1 4.5l1 -11.1l1 12.9l1 -12.3l1 .7l1 -3.2l1 6.9l1 2.5l1 -9.1l1 -4.4l1 -8.2l1 12.2l1 -3.2l1 1.9l1 -1.8l1 -.2l1 4.8l1 7.6l1 4.4l1 -6.9l1 2.2l1 -4.3h1l1 -9.7l1 15.8l1 -2.7l1 5.7l1 -15.6l1 5l1 -7.8l1 8.5l1 -2.4l1 6.3l1 -5.2l1 6.4l1 -7.6l1 8.3l1 -6.3l1 -.7l1 4.6l1 3.1l1 -11.4l1 .8l1 13.5l1 -1.4l1 -14.8l1 1.4l1 5.3l1 6.4l1 -2.1l1 4.9l1 .8l1 8.6l1 -27.1l1 10.8l1 8.6l1 -16.4l1 -1l1 11.5l1 6.2l1 .6l1 -22.7l1 3.2l1 7.3l1 -3.9l1 5.9l1 -1.3l1 12.5l1 -12.3l1 2.7l1 -.2l1 7.4l1 -16.8l1 9.8l1 -9.8l1 -5.9l1 18l1 -5.2l1 6.4l1 -7.9l1 3.8l1 -2.7l1 4.4l1 -6.1l1 16.3l1 -18.5l1 19.1l1 -14.1l1 7.4l1 -6l1 1.5l1 6.6l1 -10.8l1 -9l1 7.6l1 2.2l1 -23l1 24.5l1 .8l1 -20.9l1 11.9l1 7l1 -14.9l1 4.7l1 -.2l1 6l1 3.8l1 -8.4l1 1l1 6.8l1 -2.3l1 -4l1 11.5l1 -18.9l1 13l1 -2.7l1 .7l1 6.1l1 -.9l1 16.2l1 -12.8l1 -3.2l1 8.5l1 -5.6l1 -21.7l1 14.6l1 5.2l1 -8.7l1 8.1l1 -4.1l1 7.2l1 -14.3l1 -2.4l1 9.9l1 5.1l1 7.7l1 -12.4l1 -3.8l1 12.2l1 -6.6l1 13.1l1 -13.9l1 -13.7l1 8.6l1 -1.3l1 -3.5l1 4.2l1 .4l1 2.9l1 -1.8l1 7.6l1 1l1 -.5l1 1.5l1 -14.2l1 2.5l1 6.2l1 8.3l1 -13.3l1 6.9l1 4.1l1 12.1l1 -13.2l1 -6.2l1 11.8l1 -7l1 -4.4l1 9.6l1 -15.9l1 -14.6l1 21.6l1 6.7l1 -14.3l1 -.2l1 7.5l1 1.4l1 2.6l1 -2.9l1 6.3l1 2.3l1 -3.2l1 -9.4l1 16.1l1 -20.9l1 8.6l1 6.7l1 -12.6l1 13.1l1 4l1 -2.7l1 -8.4l1 4.5l1 -10.6l1 7.6l1 1.4l1 -1.7l1 1.3l1 -2.2l1 -13.1l1 17l1 -1.5l1 11.9l1 -10.9l1 -5.3l1 5.9l1 -1.3l1 -3.9l1 -1.7l1 -6.9l1 12.8l1 11.9l1 -25.5l1 7.2l1 13.3l1 -3.5l1 2.6l1 -15.9l1 10.4l1 8.9l1 1l1 -2.1l1 -9.2l1 10l1 -13.8l1 1.1l1 -2.5l1 18.7l1 -14.5l1 2.9l1 -17.3l1 24.3l1 -5l1 -16l1 .2l1 24.2l1 -19.7l1 20.5l1 -17.5l1 -13.9l1 25.2l1 -4.8l1 1.1l1 -9.1l1 2.1l1 8.8l1 -13l1 -8.3l1 21.5l1 -11.7l1 13.6l1 -14l1 -.3l1 1l1 -15.2l1 26.4l1 -12.7l1 4l1 13.2l1 -9.7l1 6.1l1 -4l1 3.4l1 -3.5l1 6.7l1 -10.3l1 4.6l1 -25.2l1 29.4l1 -25.5l1 18.1l1 2l1 1l1 -1.3l1 11.5l1 7l1 -19.4l1 -9.3l1 6.1l1 1.6l1 4.1l1 -.5l1 7.5l1 -12l1 2.5l1 .8l1 -7.6l1 3.8l1 19.1l1 -18.7l1 -7.3l1 -9.7l1 23.8l1 -10.5l1 -2.6l1 22l1 -6.8l1 -23.5l1 10.6l1 11l1 .3l1 -12.8l1 23.6l1 2.4l1 -20.8l1 -4.2l1 3l1 -11.8l1 29l1 -7.9l1 -7l1 2.8l1 4.5l1 -13.2l1 -3l1 12.8l1 10.5l1 -7.5h1l1 -6.6l1 11.8l1 -19.7l1 12.7l1 -3.3l1 4.1l1 -4.9l1 13.3l1 -5.7l1 -3.7l1 8l1 -4.9l1 -4.5l1 -1.7l1 9.1l1 -13.9l1 4.6l1 -.8l1 4.1l1 -4l1 17.5l1 -29.4l1 17.4l1 -4.6l1 8.8l1 -20.1l1 21.6l1 -19.5l1 15l1 -2.4l1 -5l1 -7.2l1 -2l1 5.6l1 -7.4l1 -9.7l1 .7l1 19.5l1 .6l1 -1.6l1 -2.6l1 3.5l1 1.8l1 -1l1 -7.1l1 1.1l1 -2.5l1 10.4l1 -7.9l1 6.7l1 11.5l1 -12.6l1 9.9l1 3.8l1 -26.2l1 2l1 13.4l1 -9.9l1 8.4l1 .5l1 -9.9l1 9.7l1 6.9l1 -5.5l1 -13l1 6.5l1 -2l1 16.8l1 -12.5l1 -3.3l1 5.6l1 3l1 -7.5l1 2.6l1 -1.7l1 5l1 1.5l1 -5.3l1 -5.5l1 6.6l1 -9.7l1 14.7l1 -5.5l1 -.9l1 -19.2l1 34.6l1 -5.8l1 -.7l1 -7.6l1 5.2l1 13.2l1 -21.2l1 11.3l1 -.8l1 -3.5l1 1.2l1 -10.7l1 11.2l1 -15.8l1 22.3l1 -8.9l1 -13.3l1 -9.9l1 16.5l1 3.3l1 -10.8l1 20.5l1 -10.3l1 -5.5l1 -7.3l1 9.2l1 -1l1 6.3l1 3.1l1 -7.2l1 3.8l1 7.9l1 -5.5l1 -6.2l1 6.8l1 -8.8l1 6.6l1 -4.1l1 -10l1 11.3l1 -5l1 4.3l1 -15.3l1 19.1l1 1.5l1 -9.9l1 3.1l1 2.3l1 .3l1 7l1 -11.3l1 -3.1l1 6.7l1 15.7l1 -17.9l1 -5.6l1 -.6l1 7l1 6.5l1 -28.1l1 19.4l1 .2l1 1.9l1 -2.3l1 7.1l1 -2.2l1 -9l1 22.6l1 -25.9l1 1.7l1 19.1l1 -5.1l1 -2.2l1 4l1 3.9l1 -8.5l1 -2.1l1 -3.9l1 .6l1 -.2l1 14.3l1 -6.2l1 2.8l1 -7.1l1 13.3l1 -18.5l1 15.7l1 1.7l1 -9.9l1 -4l1 10.9l1 -10l1 -2.1l1 5.8l1 -8.7l1 6.9l1 15.8l1 -19l1 9.4l1 -15.4l1 8l1 -2.9l1 1l1 7.4l1 10.8l1 -16.9l1 10.5l1 -7.8l1 2.2l1 -9.5l1 -1.6l1 4.5l1 -3.2l1 7l1 -6.9l1 8.4l1 1.4l1 12.3l1 -.5l1 -8.5l1 -6.7l1 9.1l1 2l1 -7.8l1 -5.6l1 -8.1l1 12.1l1 13.9l1 -16.4l1 4.1l1 -.3l1 .9l1 2.2l1 -20.6l1 14.5l1 4.9l1 -2.1l1 11.4l1 -10.2l1 11.2l1 7.5l1 -14.5l1 2.5l1 -2.5l1 7.7l1 -22.2l1 4.7l1 8.7l1 9l1 -1.7l1 -10.2l1 18.5l1 -11.4l1 -6.2l1 7.6l1 4.4l1 -11.5l1 -11.8l1 6.9l1 4.7l1 6.4l1 -14.7l1 9.4l1 -11l1 9.4l1 -10.4l1 6.9l1 -7.7l1 4.3l1 -4.6l1 -3.3l1 23.1l1 -1.4l1 -6.3l1 -7l1 13.7l1 -12.5l1 6.5l1 6.8l1 -5.5l1 10.5l1 -11.6l1 .2l1 2l1 -9.8l1 .4l1 13.8l1 -18.8l1 21.4l1 -6.4l1 6.6l1 -3.4l1 -1.5l1 8.5l1 -13.6l1 -.2l1 9.2l1 -13.8l1 12.9l1 -4.1l1 -9.6l1 -6.6l1 -6.3l1 28.5l1 -26l1 1.4l1 15.3l1 -2.8l1 -1l1 .5l1 -2.2l1 -2.2l1 2.6l1 10.7l1 3.8l1 .5l1 -9.9l1 -17.7l1 19.5l1 -6l1 -17.3l1 27.8l1 -8.5l1 -1.6l1 2.5l1 -.2l1 1.1l1 -1l1 -1.1l1 3.4l1 -2.6l1 13.3l1 -16.3l1 -4.8l1 .3l1 8.8l1 -.4l1 2.1l1 -2.6l1 .2l1 6.6l1 4l1 -8.4l1 -4l1 -8.3l1 -.3l1 9l1 -2.2l1 1.3l1 -7.5l1 7.6l1 -13.4l1 5.8l1 2.9l1 10.1l1 -9.7l1 -3.3l1 8.2l1 -3.6l1 7.2l1 -4.7l1 -.6l1 -2.5l1 7.1l1 -9.4l1 -4.7l1 19.7l1 -8.8l1 5.2l1 5.5l1 3.7l1 -26.2l1 11.4l1 17.1l1 -22.2l1 15.9l1 -7.1l1 -5.1l1 4.2l1 -13.3l1 14.3l1 4.5l1 -20.6l1 4.9l1 13.7l1 -6.4l1 -5l1 13.8l1 -22.8l1 11.1l1 3.3l1 -3l1 8.2l1 -19l1 12.3l1 -6.9l1 14.3l1 -1.8l1 -14.2l1 -3.5l1 6.9l1 -7.2l1 1.2l1 6.9l1 -6.9l1 17.2l1 -12.7l1 -3.9l1 -3.8l1 5.2l1 13.2l1 -3l1 8.1l1 .9l1 -3.8l1 -7.8l1 5.5l1 2.4l1 -12.9l1 14.1l1 -12l1 5l1 -5.5l1 6.2l1 11.5l1 -27.1l1 8.7l1 15.9l1 -21.6l1 6.2l1 1.8l1 4.1l1 -13.9l1 14.8l1 2.1l1 12.3l1 -18.4l1 -4.3l1 4.9l1 -18.8l1 19.4l1 8.7l1 -12.5l1 -22.9l1 20.5l1 2.7l1 -10.4l1 21.3l1 -14.5l1 .8l1 16.7l1 -11.6l1 -2.8l1 16.2l1 -10.6l1 6.1l1 -11.2l1 -9.1l1 14.2l1 8.6l1 -15.1l1 5.5l1 2.4l1 -3.2l1 -.6l1 6.6l1 -2.8l1 -4.2l1 13.1l1 -1l1 -2.6l1 3.1l1 -22.5l1 20.1l1 -1.1l1 -14.7l1 31l1 -12.9l1 -6.2l1 .2l1 4.7l1 -2.1l1 -11.6l1 9.6l1 6.8l1 1.5l1 1.9l1 -14.9l1 2.6l1 6.8l1 -8.4l1 5.4l1 -8.6l1 10.3l1 -4.2l1 3.9l1 -4.3l1 -6.5l1 -3.8l1 8.7l1 -5.8l1 -7.4l1 6.5l1 9.8l1 3.3l1 -3.4l1 4.8l1 -12.9l1 1.7l1 -6.1l1 1.3l1 17.9l1 -8.8l1 1.8l1 12l1 -1.8l1 -20.7l1 14.2l1 -12.8l1 13.4l1 -21.5l1 7.2l1 .2l1 22.1l1 -28.4l1 21.9l1 -.2l1 -7.2l1 5.4l1 10.2l1 -14.7l1 -4.2l.5 12" stroke="#2157a8" fill="none" stroke-width="7.0" stroke-linejoin="round" stroke-linecap="round"/>
<path d="M235.5 252.0L248.7 274.2L235.5 296.4L222.3 274.2Z" fill="none" stroke="#2157a8" stroke-width="7.0" stroke-miterlimit="10"/>
<path d="M508.6 1319.0L521.8 1341.2L508.6 1363.4L495.4 1341.2Z" fill="none" stroke="#2157a8" stroke-width="7.0" stroke-miterlimit="10"/>
<path d="M781.7 1337.1L794.9 1359.3L781.7 1381.5L768.5 1359.3Z" fill="none" stroke="#2157a8" stroke-width="7.0" stroke-miterlimit="10"/>
<path d="M1054.8 1365.4L1068.0 1387.6L1054.8 1409.8L1041.6 1387.6Z" fill="none" stroke="#2157a8" stroke-width="7.0" stroke-miterlimit="10"/>
<path d="M1327.9 1364.2L1341.1 1386.4L1327.9 1408.6L1314.7 1386.4Z" fill="none" stroke="#2157a8" stroke-width="7.0" stroke-miterlimit="10"/>
<path d="M1601.0 1354.5L1614.2 1376.7L1601.0 1398.9L1587.8 1376.7Z" fill="none" stroke="#2157a8" stroke-width="7.0" stroke-miterlimit="10"/>
<path d="M1874.1 1369.3L1887.3 1391.5L1874.1 1413.7L1860.9 1391.5Z" fill="none" stroke="#2157a8" stroke-width="7.0" stroke-miterlimit="10"/>
<path d="M2147.2 1368.6L2160.4 1390.8L2147.2 1413.0L2134.0 1390.8Z" fill="none" stroke="#2157a8" stroke-width="7.0" stroke-miterlimit="10"/>
<path clip-path="url(#cp)" d="M235.5 274.0l.5 -39.7l.5 -5l.5 1.7l.5 2.8l.5 8l.5 7.6l.5 1.8l.5 1.2l.5 .9l.5 .5l.5 .2l.5 -.3l.5 -.7l.5 -1l.5 -1l.5 -.7l.5 -.3h.5l.5 .2l.5 .2l.5 .2l.5 .4l.5 1.2l.5 2.6l.5 3.5l.5 3.7l.5 4.8l.5 6.1l.5 6.4l.5 5.7l.5 4.6l.5 4.7l.5 4.9l.5 5.2l.5 5.7l.5 6.5l.5 8l.5 10.2l.5 15.2l.5 32.9l.5 33.5l.5 20.2l.5 16.9l.5 15.6l.5 15.3l.5 15.6l.5 16.6l.5 17.4l.5 17.6l.5 17.1l.5 16.3l.5 15l.5 13.8l.5 13l.5 12.5l.5 12.2l.5 12l.5 12l.5 12.1l.5 12.4l.5 12.8l.5 13.1l.5 13.1l.5 13.1l.5 12.7l.5 12.3l.5 11.8l.5 11.1l.5 10.5l.5 10.1l.5 9.6l.5 9.3l.5 9l.5 8.8l.5 8.5l.5 8.4l.5 8.2l.5 8.1l.5 7.9l.5 7.9l.5 7.7l.5 7.6l.5 7.4l.5 7.1l.5 7l.5 6.7l.5 6.5l.5 6.3l.5 6.1l.5 5.8l.5 5.7l.5 5.5l.5 5.2l.5 5.1l.5 5l.5 4.7l.5 4.7l.5 4.5l.5 4.4l.5 4.3l.5 4.3l.5 4.1l.5 4.1l.5 4l.5 3.9l.5 3.9l.5 3.8l.5 3.8l.5 3.7l.5 3.7l.5 3.6l.5 3.7l.5 3.5l.5 3.6l.5 3.5l.5 3.5l.5 3.4l.5 3.5l.5 3.4l.5 3.4l.5 3.4l.5 3.3l.5 3.3l.5 3.3l.5 3.2l.5 3.1l.5 2.9l.5 2.9l.5 2.8l.5 2.7l.5 2.7l.5 2.5l.5 2.4l.5 2.3l.5 2.3l.5 2.1l.5 2.1l.5 2.1l.5 1.9l.5 1.9l.5 1.8l.5 1.8l.5 1.7l.5 1.6l.5 1.6l.5 1.4l.5 1.4l.5 1.4l1 2.4l1 2.2l1 2.1l1 2.4l1 1.5l1 1.5l1 1.5l1 2.2l1 .7l1 1.3l1 2.6h1l1 2l1 1.5l1 .7l1 1.6l1 3l1 -1.1l1 .2l1 .4l1 4.2l1 1.2l1 2.6l1 -.1l1 1.3l1 .8l1 2l1 3.6l1 .5l1 3.4l1 7.4l1 -2.4l1 -5.1l1 12.5l1 -3.4l1 -3.6l1 8.1l1 -2.4l1 -1.8l1 .5l1 -1.2l1 4.9l1 5.1l1 -6.2l1 4.4l1 8.6l1 -14.7l1 9.3l1 -1.5l1 -2.8l1 1.5l1 7.3l1 4.3l1 -4.1l1 5.4l1 5.9l1 -1.4l1 4.6l1 -2.4l1 -.1l1 8.6l1 -9.1l1 -4.3l1 3.5l1 -12.2l1 4.1l1 8.5l1 -.8l1 7.8l1 -10.8l1 -10.4l1 27.1l1 -6.3l1 -17l1 19l1 -10.8l1 -14.6l1 11.6l1 .1l1 17.8l1 -18l1 5.5l1 .9l1 .1l1 -3.6l1 9.5l1 7.3l1 -3.3l1 -11.9l1 -1.1l1 11l1 -5.9l1 1l1 -8.2l1 28.8l1 -8.7l1 -15.6l1 14.4l1 2.7l1 -30.1l1 13.1l1 .4l1 7.7l1 -6.3l1 -.4l1 2.1l1 16.4l1 3.6l1 -20.3l1 -2.2l1 26.6l1 -25.6l1 3.6l1 5l1 3.6l1 4.3l1 -4.9l1 -9.6l1 11.9l1 -1.1l1 13.9l1 -14.8l1 -10.8l1 1.5l1 19l1 -17l1 -13.2l1 11.9l1 4.6l1 9.7l1 -17.3l1 13.9l1 1.7l1 -11.1l1 5.1l1 16.7l1 .6l1 -6l1 -3.3l1 7.2l1 -9.7l1 .6l1 -6.2l1 6.7l1 -1.1l1 18.7l1 -20.1l1 11.9l1 .8l1 -11.2l1 12l1 -25.3l1 19.8l1 7.5l1 -24.2l1 9.8l1 17.9l1 -10.3l1 -6.5l1 6.4l1 -.5l1 11.2l1 -1.2l1 -5.4l1 -3.1l1 4.2l1 9.9l1 -9.1l1 1l1 -7.1l1 -9.4l1 4.9l1 11.4l1 -3.8l1 -7.8l1 -5.9l1 13.2l1 -4.2l1 -.7l1 -.1l1 4.8l1 .4l1 5.8l1 .4l1 4.1l1 -3.2l1 -8.2l1 3l1 5l1 -5.9l1 7.5l1 5.6l1 -14.5l1 -6.4l1 25.1l1 -8l1 6.7l1 -15.3l1 25.2l1 -7.7l1 -7l1 -2.2l1 3.3l1 -2.6l1 -.7l1 -5.9l1 20.4l1 -8.6l1 3l1 2.3l1 -17.2l1 24.3l1 -5.7l1 .9l1 2.8l1 -9.1l1 13.3l1 -13.7l1 -3l1 -.4l1 8.1l1 5.6l1 -9l1 -5.1l1 22.9l1 -15l1 19.3l1 -9.6l1 -5.4l1 -.2l1 8.2l1 3.2l1 -8.3l1 10.1l1 10.5l1 -16.9l1 -6.4l1 1.6l1 -2.5l1 5.7l1 -1.5l1 -6l1 13.4l1 -24.1l1 6.8l1 26.1l1 -7.6l1 -3.2l1 .9l1 12.2l1 -8.2l1 -2.2l1 -9.5l1 9.4l1 -5.8l1 -1.1l1 -1.8l1 3.5l1 -4l1 8.3l1 -18.6l1 8.5l1 15.8l1 -14.7l1 9.4l1 -.1l1 2l1 -4.1l1 -16.5l1 9.3l1 -.7l1 -9.4l1 8.5l1 -6.6l1 -3.9l1 14.4l1 -2.5l1 -5.5l1 -2.2l1 3.6l1 1.8l1 .7l1 3.9l1 -1.8l1 8l1 2.5l1 -.1l1 -7.5l1 .7l1 8.3l1 -5.1l1 1.3l1 -17.9l1 .1l1 21l1 -.7l1 7.3l1 -6.8l1 -5.5l1 -2.9l1 -12.2l1 18.5l1 -11.3l1 9.8l1 -1.3l1 1.5l1 5.7l1 -10.5l1 1.4l1 -2.9l1 4.9l1 17.5l1 -15.2l1 13l1 -2.9l1 -1.3l1 -.3l1 -15.5l1 10.1l1 9l1 -18.6l1 5.1l1 -5l1 8.3l1 -10.8l1 22l1 -15.3l1 -8.8l1 27.3l1 -6.1l1 -3.3l1 .4l1 -6.9l1 1.4l1 7.8l1 1.6l1 -.1l1 -6.2l1 -6.2l1 1.3l1 9.6l1 2.2l1 -14.3l1 -.3l1 15.2l1 -2.4l1 1.6l1 -14.9l1 7.9l1 -1.6l1 4.7l1 -16.7l1 22.2l1 -8.9l1 .3l1 -13.4l1 9l1 11l1 -23.1l1 15.4l1 3.8l1 -10.3l1 12.9l1 -8.5l1 12.8l1 -5.7l1 -2.8l1 13.6l1 -10.2l1 3.1l1 -20.6l1 4.1l1 11.8l1 .7l1 -7.6l1 6.5l1 -15l1 9.8l1 -11.4l1 11.6l1 -6.6l1 -1.1l1 5.8l1 14.3l1 -22.4l1 3.5l1 13.4l1 -11.9l1 17.5l1 -12.2l1 -.7l1 3.1l1 12.4l1 -7.2l1 .5l1 -.9l1 -13.8l1 5.5l1 18.3l1 -6.6l1 -4.1l1 -.7l1 -11.1l1 5.7l1 -10.8l1 9.9l1 -9.1l1 4.1l1 5.4l1 -6.2l1 7.8l1 -1.5l1 -.5l1 8.3l1 -21.5l1 .1l1 18.6l1 3.2l1 8.9l1 -9.9l1 .4l1 -13.9l1 12.7l1 -1l1 -14.4l1 .7l1 5.9l1 2.8l1 -20.7l1 19l1 1.5l1 -3l1 3.8l1 2l1 -11.1l1 12.5l1 -3.7l1 -3.8l1 11.2l1 11.9l1 -22.3l1 -.8l1 .2l1 28.8l1 -18.1l1 1.1l1 -6l1 -1.4l1 -8.6l1 17.7l1 .8l1 -17.9l1 7.4l1 2.2l1 5.8l1 2.5l1 7.5l1 2.6l1 -1.9l1 2.5l1 -20.3l1 4.3l1 12.9l1 -7.4l1 -2.3l1 -15.7l1 1.7l1 21.6l1 -2.3l1 -4.7l1 -1l1 -11l1 16l1 4.6l1 -34l1 25.1l1 -2.3l1 -7.4l1 18.2l1 3.5l1 -19l1 6.9l1 -2l1 -5.5l1 -13.7l1 16l1 8.6l1 -15.2l1 6.2l1 -10.3l1 29.8l1 -5.4l1 -3.2l1 -2.5l1 -3.6l1 3.5l1 -3.2l1 -.9l1 .6l1 .4l1 11l1 -24.1l1 13.8l1 -6.9l1 -4.1l1 -9.4l1 23.1l1 -12.8l1 2.1l1 10.4l1 -11.5l1 10l1 .1l1 7.7l1 1.9l1 -15.1l1 14l1 -8.4l1 1.5l1 -2.7l1 7.9l1 -15.6l1 12.2l1 7.9l1 -11.2l1 18.8l1 -22.2l1 7.4l1 -5.8l1 -1l1 -3.4l1 5.6l1 5.3l1 -4.7l1 14.5l1 5.6l1 -24.2l1 18.6l1 -5.6l1 -.1l1 16l1 -9.4l1 -7.5l1 -1.9l1 -19.3l1 23l1 -12.5l1 7.3l1 -.8l1 6.7l1 8.2l1 -8.8l1 2l1 -12.2l1 5.6l1 2.9l1 -17.3l1 28.3l1 -21.6l1 -4l1 24l1 4.9l1 -21.3l1 2.1l1 24.6l1 -16.6l1 -16.5l1 10.6l1 20.1l1 -11.7l1 -.3l1 2.9l1 -5l1 -8.4l1 -10.1l1 16.6l1 -11.9l1 9.3l1 15.1l1 -9.4l1 -3.9l1 -.3l1 4.8l1 .9l1 -18.4l1 11.4l1 11.6l1 -8.4l1 -12.8l1 .5l1 -10.8l1 11l1 20.6l1 -11.7l1 -4.7l1 3.5l1 4.4l1 .1l1 -2.6l1 -4.4l1 -18.2l1 33.6l1 -18.5l1 -1.2l1 12.8l1 -21.6l1 7.2l1 2.6l1 5.9l1 -1.9l1 -3.3l1 10.7l1 -11.5l1 -4.8l1 -3.4l1 20.7l1 -21.7l1 15.8l1 .4l1 .2l1 -8l1 -2.5l1 6.3l1 -3.7l1 -3.6l1 22l1 -15.9l1 22.4l1 -9.7l1 -7.6l1 7.3l1 6.4l1 -20.7l1 3.8l1 -.8l1 9.6l1 1.5l1 -3.7l1 -6.9l1 .9l1 13.6l1 -.3l1 -7.3l1 -11l1 15.9l1 -2.6l1 -.3l1 11.7l1 -7.1l1 -13.8l1 .9l1 19.9l1 -8.2l1 6.5l1 -7.2l1 -6.3l1 10.3l1 10.4l1 -9.7l1 -11.5l1 7.1l1 -.9l1 6l1 7.2l1 7.6l1 -14.1l1 -5.8l1 3.4l1 -1.3l1 -4.3l1 2.9l1 -.8l1 -9.9l1 13.5l1 -7.6l1 -5.2l1 11.4l1 -8.6l1 16.9l1 -11.2l1 -4.2l1 -7.2l1 2.6l1 10.2l1 -12.2l1 11.2l1 -23.6l1 17.1l1 3.4l1 -5.3l1 -3.9l1 7.4l1 -15.2l1 -.6l1 9.5l1 10.1l1 -4.6l1 -3.2l1 5.7l1 2.9l1 -11.8l1 -7.5l1 12.1l1 -2.9l1 7.6l1 -5.5l1 1.8l1 9.3l1 -3.8l1 -1.6l1 13.3l1 -17l1 .7l1 13.2l1 -19.2l1 -4.4l1 23.3l1 -7.9l1 2.1l1 .2l1 2.2l1 -10.9l1 3.4l1 -7.9l1 10.6l1 1.5l1 -4.9l1 9.6l1 12.5l1 -26.5l1 16l1 1.1l1 1.2l1 -14.9l1 16.2l1 -4.1l1 -5.8l1 -1.2l1 5.3l1 6.3l1 .2l1 10.5l1 -20l1 7.3l1 -9.5l1 8.4l1 -6.6l1 -7.1l1 -6.6l1 3.9l1 7.8l1 9.6l1 -6l1 -16.1l1 5.3l1 4.2l1 -1l1 2l1 6.4l1 -3.8l1 -6.7l1 -9.4l1 12.9l1 -10.8l1 11.9l1 3.4l1 -13.7l1 8.9l1 -2.3l1 17.2l1 -12.4l1 -19.6l1 18l1 -.6l1 -5l1 -1.5l1 7.8l1 .4l1 -2l1 -11.6l1 6l1 -10.3l1 .8l1 8l1 -3.3l1 6.1l1 23.4l1 -14l1 -10.1l1 -9.2l1 11.5l1 -3.8l1 -5.1l1 24.3l1 -8.9l1 7.7l1 15.7l1 -17.7l1 -1.9l1 1.3l1 -5.3l1 -4.6l1 4.9l1 10.9l1 -11.2l1 -8.8l1 1l1 1.7l1 8.3l1 3.6l1 -.2l1 5.6l1 -11.3l1 8.3l1 -4.2l1 2.8l1 -20.7l1 24.2l1 -22.8l1 3.1l1 15.2l1 -9.2l1 17.5l1 -12.6l1 -9.6l1 9l1 -5.3l1 14.4l1 -.7l1 -8.4l1 -10.3l1 3l1 7.2l1 -15.2h1l1 13.2l1 -.7l1 -7.4l1 .3l1 -12.6l1 26.1l1 -9.2l1 -9.4l1 3.2l1 2.5l1 21.1l1 -7.9l1 -16.1l1 25.9l1 -3.5l1 -18.2l1 -8.7l1 27.4l1 -11.4l1 4.5l1 -2.7l1 14.1l1 1.3l1 -5.9l1 -8.4l1 2.6l1 2.2l1 -18.2l1 21.7l1 -13.4l1 3.5l1 -2.4l1 4.8l1 .1l1 8.3l1 -20.8l1 -4.3l1 8.6l1 -5.7l1 12.7l1 -12.6l1 8.1l1 7l1 .8l1 -6.7l1 9.2l1 -1.7l1 -24.6l1 15.9l1 -1.7l1 -3.9l1 -2.7l1 5.5l1 2.7l1 -1.1l1 8.5l1 -3.1l1 -12.6l1 -1.2l1 13.3l1 -11.9l1 7.6l1 3.3l1 5.4l1 -3.2l1 8.2l1 -14.8l1 9.1l1 -10.9l1 6.1l1 -1.4l1 -9.7l1 -12.8l1 24.6l1 -6.6l1 -3.5l1 -7.9l1 2.6l1 7.1l1 -1.8l1 11.3l1 -6.1l1 -5.8l1 12.3l1 -10.1l1 6l1 -17.3l1 10.6l1 6.5l1 -10.1l1 5.1l1 5.4l1 -3.4l1 14.7l1 -15.4l1 1.3l1 .4l1 -14.9l1 2.7l1 15.5l1 -7.9l1 13.2l1 -11.7l1 .1l1 11.1l1 -4.2l1 12.5l1 -19.7l1 13l1 2.2l1 -1.3l1 3.9l1 -2l1 -9.1l1 -5.8l1 11.5l1 -7.9l1 6.9l1 3.2l1 -9.1l1 -8.6l1 5.6l1 8.8l1 -7.6l1 12.1l1 -8.4l1 1.5l1 -5.6l1 4.3l1 9.3l1 -12.1l1 -.7l1 -4.3l1 12l1 -18.4l1 7.2l1 13.2l1 4.8l1 -12.6l1 9.9l1 -23.5l1 21.6l1 -4.3l1 -13l1 -5.4l1 9.1l1 5h1l1 -2.6l1 5l1 -.3l1 -16l1 8.8l1 -.2l1 12.8l1 -12l1 11.9l1 -7.6l1 16.8l1 -18.8l1 -.1l1 -1.4l1 1.8l1 16.6l1 -21.8l1 -2.5l1 6l1 7.5l1 -12.8l1 14.5l1 -.3l1 -7.5l1 -.8l1 -4.2l1 4.8l1 -3.2l1 17.7l1 4.4l1 -14.1l1 2.7l1 -14.6l1 10.7l1 6.2l1 -1.6l1 -2.5l1 4.7l1 -6.9l1 -4.3l1 15.7l1 -28l1 6.1l1 3.3l1 -.3l1 -1.2l1 3.4l1 -4.8l1 4.5l1 5l1 -3.9l1 1.8l1 -7.4l1 -.6l1 7l1 9.4l1 -5.1l1 5l1 -1.1l1 1.2l1 -14.8l1 16.9l1 -3.5l1 10.5l1 -12.2l1 -2.4l1 -3.9l1 2.4l1 -14.4l1 11.2l1 1.4l1 7.6l1 -14l1 5.3l1 12.6l1 -19.4l1 10.5l1 -11.2l1 3.5l1 4.5l1 3.4l1 -11.1l1 -4.7l1 19.2l1 -11.8l1 3.3l1 -.6l1 -2.3l1 -8.5l1 1.5l1 -10l1 15.5l1 -3.1l1 5.5l1 16.4l1 -8.5l1 -4.6l1 -11.3l1 16.4l1 6.4l1 -18.2l1 10.4l1 -6.9l1 3.2l1 -1.9l1 -10.7l1 7.2l1 -10.3l1 22.4l1 -3.5l1 -7.7l1 2.9l1 .1l1 3.3l1 2.2l1 -1.7l1 1.7l1 -8.8l1 2.4l1 2.2l1 5.2l1 -6l1 16.4l1 -17.9l1 -2.5l1 5.5l1 4.4l1 6.5l1 -6.4l1 -11.8l1 3.8l1 9.9l1 -6.1l1 4.3l1 -6.7l1 13.5l1 -.8l1 -2.2l1 -7.3l1 -13.8l1 2l1 13l1 2.5l1 -23.8l1 14.9l1 12.7l1 -1.5l1 -11.3l1 8.8l1 -5l1 -2.5l1 9.7l1 -.5l1 -13.5l1 -3.5l1 -2.8l1 -.5l1 22.1l1 5l1 -12.1l1 7.7l1 -12.3l1 6.1l1 8.7l1 -4l1 -2.6l1 -13.2l1 .8l1 6.8l1 -2.6l1 2.4l1 -5.1l1 3.3l1 3l1 5.3l1 -1.4l1 -2.6l1 3.9l1 10.2l1 -8.5l1 -6.6l1 -1.4l1 8.8l1 1.2l1 4.8l1 -11.8l1 13.7l1 -13.2l1 .8l1 -3.3l1 7.4l1 2.8l1 -9.6l1 -4.7l1 -8.7l1 13l1 -3.5l1 2l1 -2l1 -.3l1 5l1 8l1 4.6l1 -7.3l1 2.3l1 -4.5h1l1 -10.3l1 16.9l1 -2.8l1 6l1 -16.5l1 5.3l1 -8.3l1 9l1 -2.5l1 6.7l1 -5.7l1 6.9l1 -8.2l1 8.8l1 -6.7l1 -.7l1 4.7l1 3.4l1 -12.3l1 .7l1 14.3l1 -1.5l1 -15.7l1 1.5l1 5.7l1 7l1 -2.2l1 5.3l1 .8l1 9.2l1 -28.9l1 11.5l1 9.1l1 -17.5l1 -1.1l1 12.3l1 6.6l1 .7l1 -24.2l1 3.5l1 7.8l1 -4.1l1 6.3l1 -1.3l1 13.2l1 -13.2l1 2.9l1 -.3l1 7.9l1 -17.9l1 10.5l1 -10.3l1 -6.2l1 19.2l1 -5.5l1 6.8l1 -8.4l1 3.9l1 -2.9l1 4.6l1 -6.6l1 17.3l1 -19.7l1 20.4l1 -15.1l1 8l1 -6.4l1 1.6l1 7.2l1 -11.5l1 -9.6l1 8.3l1 2.3l1 -24.5l1 26.1l1 .9l1 -22.3l1 12.7l1 7.5l1 -15.9l1 5.1l1 -.2l1 6.5l1 4l1 -9l1 1.1l1 7.2l1 -2.4l1 -4.4l1 12.2l1 -20.3l1 13.8l1 -3l1 .7l1 6.4l1 -1l1 17.4l1 -13.7l1 -3.3l1 9.2l1 -5.9l1 -23.2l1 15.6l1 5.5l1 -9.4l1 8.6l1 -4.5l1 7.6l1 -15.3l1 -2.6l1 10.6l1 5.5l1 8.2l1 -13.1l1 -4l1 12.9l1 -7l1 14l1 -14.9l1 -14.6l1 9.1l1 -1.3l1 -3.7l1 4.5l1 .4l1 3.1l1 -1.9l1 8.1l1 1l1 -.7l1 1.5l1 -15.2l1 2.6l1 6.6l1 8.8l1 -14.1l1 7.4l1 4.4l1 13l1 -14.1l1 -6.6l1 12.6l1 -7.4l1 -4.7l1 10.3l1 -16.9l1 -15.5l1 23l1 7.1l1 -15.4l1 -.1l1 7.9l1 1.4l1 2.8l1 -3.2l1 6.7l1 2.4l1 -3.4l1 -10l1 17.2l1 -22.2l1 9.2l1 7.2l1 -13.3l1 14l1 4.3l1 -2.9l1 -8.9l1 4.7l1 -11.3l1 8.1l1 1.4l1 -1.9l1 1.3l1 -2.4l1 -14l1 18.3l1 -1.6l1 12.7l1 -11.5l1 -5.7l1 6.4l1 -1.5l1 -4.2l1 -1.8l1 -7.6l1 13.7l1 12.6l1 -27.2l1 7.6l1 14.1l1 -3.7l1 2.7l1 -17.1l1 11.1l1 9.4l1 1.1l1 -2.3l1 -9.7l1 10.6l1 -14.6l1 1.2l1 -2.7l1 20l1 -15.4l1 3.2l1 -18.4l1 25.8l1 -5.3l1 -17l1 .2l1 25.8l1 -21l1 21.9l1 -18.7l1 -14.8l1 27l1 -5.1l1 1.1l1 -9.7l1 2.2l1 9.5l1 -14l1 -8.8l1 22.9l1 -12.4l1 14.5l1 -14.8l1 -.3l1 1l1 -16.2l1 28.1l1 -13.6l1 4.3l1 14l1 -10.4l1 6.5l1 -4.3l1 3.6l1 -3.7l1 7.1l1 -11l1 4.9l1 -26.8l1 31.4l1 -27.2l1 19.2l1 2.2l1 1l1 -1.5l1 12.1l1 7.5l1 -20.8l1 -10l1 6.6l1 1.6l1 4.5l1 -.5l1 8.1l1 -12.7l1 2.6l1 .9l1 -8.1l1 4.1l1 20.4l1 -20l1 -7.6l1 -10.3l1 25.3l1 -11.1l1 -2.8l1 23.4l1 -7.2l1 -25.1l1 11.3l1 11.7l1 .2l1 -13.8l1 25.1l1 2.4l1 -22.3l1 -4.5l1 3.2l1 -12.6l1 31l1 -8.3l1 -7.5l1 3.1l1 4.9l1 -14.1l1 -3.4l1 13.7l1 11.1l1 -8h1l1 -7.1l1 12.7l1 -21l1 13.5l1 -3.6l1 4.3l1 -5.3l1 14.2l1 -6.1l1 -4l1 8.5l1 -5.2l1 -4.7l1 -1.7l1 9.8l1 -14.8l1 5l1 -.9l1 4.4l1 -4.3l1 18.7l1 -31.4l1 18.7l1 -5l1 9.4l1 -21.5l1 23l1 -20.8l1 16l1 -2.5l1 -5.1l1 -7.7l1 -2l1 6.1l1 -7.8l1 -10.4l1 .8l1 20.8l1 .6l1 -1.8l1 -2.8l1 3.7l1 1.8l1 -1.1l1 -7.6l1 1.1l1 -2.7l1 11l1 -8.5l1 7.2l1 12.2l1 -13.5l1 10.6l1 4.1l1 -27.8l1 2.2l1 14.2l1 -10.4l1 9l1 .5l1 -10.4l1 10.3l1 7.4l1 -5.9l1 -13.9l1 6.8l1 -2.1l1 17.8l1 -13.4l1 -3.5l1 5.9l1 3.3l1 -8l1 2.8l1 -1.7l1 5.3l1 1.6l1 -5.6l1 -5.9l1 7.1l1 -10.4l1 15.7l1 -5.9l1 -.9l1 -20.5l1 36.9l1 -6.2l1 -.8l1 -8.2l1 5.5l1 14l1 -22.7l1 12.1l1 -.9l1 -3.8l1 1.3l1 -11.4l1 12.1l1 -16.8l1 23.9l1 -9.5l1 -14.1l1 -10.5l1 17.6l1 3.5l1 -11.5l1 21.8l1 -11l1 -5.9l1 -7.8l1 9.8l1 -.9l1 6.6l1 3.4l1 -7.8l1 4.1l1 8.3l1 -5.9l1 -6.6l1 7.2l1 -9.4l1 7.2l1 -4.3l1 -10.7l1 12.2l1 -5.3l1 4.7l1 -16.4l1 20.3l1 1.5l1 -10.6l1 3.3l1 2.3l1 .3l1 7.4l1 -12l1 -3.4l1 7.1l1 16.8l1 -19l1 -5.9l1 -.6l1 7.5l1 7l1 -29.9l1 20.7l1 .2l1 2l1 -2.4l1 7.6l1 -2.4l1 -9.7l1 24l1 -27.7l1 1.8l1 20.2l1 -5.5l1 -2.5l1 4.3l1 4.1l1 -9l1 -2.3l1 -4l1 .6l1 -.1l1 15.3l1 -6.7l1 3l1 -7.7l1 14.1l1 -19.9l1 16.8l1 1.8l1 -10.5l1 -4.2l1 11.6l1 -10.6l1 -2.2l1 6.3l1 -9.4l1 7.5l1 16.9l1 -20.2l1 10l1 -16.4l1 8.5l1 -3l1 1.1l1 7.8l1 11.5l1 -18l1 11.1l1 -8.2l1 2.4l1 -10.1l1 -1.8l1 4.8l1 -3.4l1 7.3l1 -7.4l1 9l1 1.4l1 13.1l1 -.5l1 -9.1l1 -7.3l1 9.7l1 2.1l1 -8.3l1 -5.9l1 -8.6l1 13l1 14.9l1 -17.5l1 4.4l1 -.3l1 .9l1 2.4l1 -22l1 15.4l1 5.2l1 -2.3l1 12l1 -11l1 11.8l1 8l1 -15.5l1 2.6l1 -2.6l1 8.1l1 -23.6l1 5.1l1 9.3l1 9.5l1 -1.8l1 -10.9l1 19.7l1 -12.1l1 -6.6l1 8.2l1 4.8l1 -12.2l1 -12.5l1 7.3l1 5.1l1 6.8l1 -15.7l1 10l1 -11.7l1 10.1l1 -11.1l1 7.2l1 -8.1l1 4.6l1 -5l1 -3.5l1 24.8l1 -1.5l1 -6.6l1 -7.4l1 14.5l1 -13.3l1 6.8l1 7.2l1 -6l1 11.2l1 -12.4l1 .1l1 2.2l1 -10.5l1 .5l1 14.7l1 -20.1l1 22.9l1 -6.9l1 7.1l1 -3.6l1 -1.5l1 9l1 -14.5l1 -.2l1 9.8l1 -14.7l1 13.8l1 -4.3l1 -10.2l1 -6.9l1 -6.7l1 30.4l1 -27.7l1 1.6l1 16.3l1 -2.9l1 -1.3l1 .5l1 -2.4l1 -2.5l1 2.7l1 11.4l1 4l1 .6l1 -10.6l1 -18.7l1 20.8l1 -6.3l1 -18.4l1 29.7l1 -9.1l1 -1.7l1 2.6l1 -.2l1 1.1l1 -1l1 -1.2l1 3.7l1 -2.7l1 14.2l1 -17.3l1 -5.1l1 .2l1 9.3l1 -.5l1 2.2l1 -2.9l1 .2l1 7.1l1 4.3l1 -8.9l1 -4.2l1 -8.9l1 -.2l1 9.6l1 -2.3l1 1.3l1 -8l1 8.2l1 -14.5l1 6.2l1 3.2l1 10.8l1 -10.3l1 -3.5l1 8.8l1 -3.7l1 7.7l1 -5l1 -.7l1 -2.7l1 7.6l1 -10.2l1 -5.1l1 21l1 -9.6l1 5.6l1 5.7l1 3.9l1 -27.9l1 12.1l1 18.3l1 -23.7l1 17l1 -7.5l1 -5.4l1 4.6l1 -14.1l1 15.3l1 4.9l1 -21.9l1 5.3l1 14.6l1 -6.7l1 -5.3l1 14.6l1 -24.4l1 11.9l1 3.4l1 -3.1l1 8.7l1 -20.2l1 13.1l1 -7.3l1 15.3l1 -1.8l1 -15.1l1 -3.7l1 7.5l1 -7.7l1 1.4l1 7.4l1 -7.4l1 18.4l1 -13.6l1 -4.2l1 -4.1l1 5.5l1 14l1 -3.2l1 8.6l1 .8l1 -4.2l1 -8.4l1 5.8l1 2.5l1 -13.8l1 15.1l1 -12.7l1 5.5l1 -5.7l1 6.8l1 12.3l1 -28.8l1 9.3l1 17l1 -23.2l1 6.6l1 1.9l1 4.3l1 -14.9l1 15.7l1 2.4l1 13.1l1 -19.5l1 -4.6l1 5.2l1 -19.9l1 20.6l1 9.4l1 -13.3l1 -24.4l1 21.9l1 2.9l1 -11.1l1 22.7l1 -15.5l1 .8l1 17.7l1 -12.4l1 -2.9l1 17.2l1 -11.3l1 6.4l1 -11.9l1 -9.7l1 15.1l1 9.3l1 -16l1 5.9l1 2.6l1 -3.4l1 -.7l1 6.9l1 -3l1 -4.6l1 13.9l1 -1.1l1 -2.8l1 3.3l1 -24l1 21.4l1 -1.2l1 -15.8l1 33.1l1 -13.8l1 -6.5l1 .2l1 5l1 -2.2l1 -12.5l1 10.2l1 7.3l1 1.6l1 2l1 -15.8l1 2.8l1 7.3l1 -8.8l1 5.7l1 -9l1 10.9l1 -4.4l1 4.1l1 -4.5l1 -6.9l1 -4.1l1 9.5l1 -6.2l1 -7.8l1 6.9l1 10.5l1 3.5l1 -3.6l1 5.1l1 -13.7l1 1.8l1 -6.5l1 1.4l1 19.1l1 -9.4l1 1.9l1 12.8l1 -1.9l1 -22.1l1 15.1l1 -13.6l1 14.2l1 -22.9l1 7.7l1 .2l1 23.6l1 -30.3l1 23.3l1 -.2l1 -7.6l1 5.7l1 11l1 -15.7l1 -4.5l.5 12.8" stroke="#ed2a2c" fill="none" stroke-width="7.0" stroke-linejoin="round" stroke-linecap="round"/>
<path d="M218.5 263.2L252.5 263.2L235.5 296.9Z" fill="none" stroke="#ed2a2c" stroke-width="7.0" stroke-miterlimit="10"/>
<path d="M491.6 1277.8L525.6 1277.8L508.6 1311.5Z" fill="none" stroke="#ed2a2c" stroke-width="7.0" stroke-miterlimit="10"/>
<path d="M764.7 1299.6L798.7 1299.6L781.7 1333.3Z" fill="none" stroke="#ed2a2c" stroke-width="7.0" stroke-miterlimit="10"/>
<path d="M1037.8 1332.8L1071.8 1332.8L1054.8 1366.5Z" fill="none" stroke="#ed2a2c" stroke-width="7.0" stroke-miterlimit="10"/>
<path d="M1310.9 1330.3L1344.9 1330.3L1327.9 1364.0Z" fill="none" stroke="#ed2a2c" stroke-width="7.0" stroke-miterlimit="10"/>
<path d="M1584.0 1319.7L1618.0 1319.7L1601.0 1353.4Z" fill="none" stroke="#ed2a2c" stroke-width="7.0" stroke-miterlimit="10"/>
<path d="M1857.1 1333.6L1891.1 1333.6L1874.1 1367.3Z" fill="none" stroke="#ed2a2c" stroke-width="7.0" stroke-miterlimit="10"/>
<path d="M2130.2 1332.8L2164.2 1332.8L2147.2 1366.5Z" fill="none" stroke="#ed2a2c" stroke-width="7.0" stroke-miterlimit="10"/>
<rect x="1590.5" y="44.5" width="721.5" height="479.0" fill="#fff" stroke="#4d4e50" stroke-width="6.7"/>
<path d="M1608 97.5H1700" stroke="#231f20" stroke-width="7.0"/>
<ellipse cx="1655.0" cy="96.9" rx="14.5" ry="16.8" fill="none" stroke="#231f20" stroke-width="7.0"/>
<text x="0" y="0" font-size="80" transform="translate(1708.3 124.9) scale(0.911 1)">PAPMCC</text>
<text x="0" y="0" font-size="80" transform="translate(2028.0 124.9) scale(0.885 1)">μ=0.025</text>
<path d="M1608 191.0H1700" stroke="#70bf46" stroke-width="7.0"/>
<rect x="1643.5" y="178.5" width="23" height="25" fill="none" stroke="#70bf46" stroke-width="7.0"/>
<text x="0" y="0" font-size="80" transform="translate(1708.3 218.4) scale(0.911 1)">PAPMCC</text>
<text x="0" y="0" font-size="80" transform="translate(2028.0 218.4) scale(0.885 1)">μ=0.050</text>
<path d="M1608 284.5H1700" stroke="#a55aa5" stroke-width="7.0"/>
<path d="M1655.0 264.2v38.6M1637.2 284.5h35.6M1642.5 269.5l25 28M1667.5 269.5l-25 28" fill="none" stroke="#a55aa5" stroke-width="7.0"/>
<text x="0" y="0" font-size="80" transform="translate(1708.3 311.9) scale(0.911 1)">PAPMCC</text>
<text x="0" y="0" font-size="80" transform="translate(2028.0 311.9) scale(0.885 1)">μ=0.075</text>
<path d="M1608 378.0H1700" stroke="#2157a8" stroke-width="7.0"/>
<path d="M1655.0 355.8L1668.2 378.0L1655.0 400.2L1641.8 378.0Z" fill="none" stroke="#2157a8" stroke-width="7.0" stroke-miterlimit="10"/>
<text x="0" y="0" font-size="80" transform="translate(1708.3 405.4) scale(0.911 1)">PAPMCC</text>
<text x="0" y="0" font-size="80" transform="translate(2028.0 405.4) scale(0.885 1)">μ=0.100</text>
<path d="M1608 471.5H1700" stroke="#ed2a2c" stroke-width="7.0"/>
<path d="M1638.0 460.5L1672.0 460.5L1655.0 494.2Z" fill="none" stroke="#ed2a2c" stroke-width="7.0" stroke-miterlimit="10"/>
<text x="0" y="0" font-size="80" transform="translate(1708.3 498.9) scale(0.911 1)">PAPMCC</text>
<text x="0" y="0" font-size="80" transform="translate(2028.0 498.9) scale(0.885 1)">μ=0.125</text>
<text x="0" y="0" font-size="83.5" text-anchor="end" transform="translate(214.5 302.8) scale(0.915 1)">0</text>
<text x="0" y="0" font-size="83.5" text-anchor="end" transform="translate(214.5 761.0) scale(0.915 1)">-10</text>
<text x="0" y="0" font-size="83.5" text-anchor="end" transform="translate(214.5 1219.3) scale(0.915 1)">-20</text>
<text x="0" y="0" font-size="83.5" text-anchor="end" transform="translate(214.5 1677.6) scale(0.915 1)">-30</text>
<text x="0" y="0" font-size="83.5" text-anchor="middle" transform="translate(233.5 1982.6) scale(0.915 1)">0</text>
<text x="0" y="0" font-size="83.5" text-anchor="middle" transform="translate(753.6 1982.6) scale(0.915 1)">1</text>
<text x="0" y="0" font-size="83.5" text-anchor="middle" transform="translate(1276.8 1982.6) scale(0.915 1)">2</text>
<text x="0" y="0" font-size="83.5" text-anchor="middle" transform="translate(1796.4 1982.6) scale(0.915 1)">3</text>
<text x="0" y="0" font-size="83.5" text-anchor="middle" transform="translate(2315.0 1982.6) scale(0.915 1)">4</text>
<text x="0" y="0" font-size="89.4" text-anchor="middle" transform="translate(1275 2083) scale(0.926 1)">Iterations</text>
<text x="0" y="0" font-size="83.5" transform="translate(2214.5 2099.3) scale(0.88 1)">10</text>
<text x="0" y="0" font-size="64.3" transform="translate(2287 2059.9) scale(0.915 1)">4</text>
<text x="0" y="0" font-size="88.2" text-anchor="middle" transform="translate(88 965) rotate(-90) scale(1 0.92)">Normalized Misalignment (dB)</text>
</svg></body></html>
